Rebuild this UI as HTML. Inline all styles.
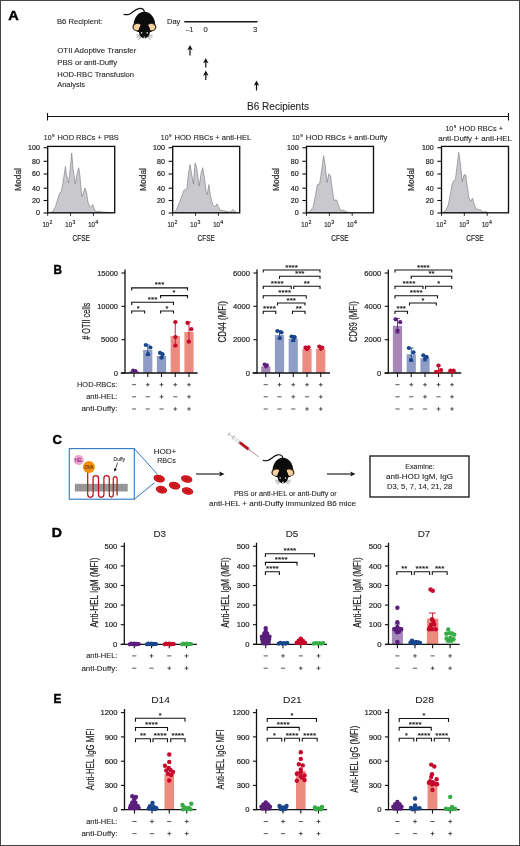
<!DOCTYPE html>
<html><head><meta charset="utf-8"><title>Figure</title>
<style>
html,body{margin:0;padding:0;background:#fff;}
body{width:520px;height:846px;overflow:hidden;}
svg{display:block;font-family:"Liberation Sans",sans-serif;will-change:transform;}
text{fill:#231f20;stroke:#231f20;stroke-width:0.1px;}
text.k{stroke-width:0.2px;}
</style></head><body>
<svg width="520" height="846" viewBox="0 0 520 846">
<rect x="0" y="0" width="520" height="846" fill="#fff"/>
<text font-size="13.4" textLength="10.5" lengthAdjust="spacingAndGlyphs" font-weight="bold" style="fill:#000;stroke:#000;stroke-width:0.45px" x="8.3" y="19.8" >A</text>
<text font-size="7.9" textLength="45.5" lengthAdjust="spacingAndGlyphs" x="57" y="24.3" >B6 Recipient:</text>
<g transform="translate(144.4 25) scale(1.0)">
<path d="M0,-13 C-0.5,-15.6 -2.5,-16.9 -5.5,-16.4 C-10,-15.7 -12,-11.6 -15.5,-10.6 C-17.5,-10.1 -19,-10.2 -20.4,-10.6" fill="none" stroke="#111" stroke-width="1.25" stroke-linecap="round"/>
<path d="M0,-13.3 C6,-13.3 10.8,-7 10.8,0 C10.8,4 9,6.5 6,7 L-6,7 C-9,6.5 -10.8,4 -10.8,0 C-10.8,-7 -6,-13.3 0,-13.3 Z" fill="#0b0b0b"/>
<ellipse cx="-7.2" cy="2.0" rx="4.8" ry="4.1" fill="#3b2a1a"/>
<ellipse cx="7.2" cy="2.0" rx="4.8" ry="4.1" fill="#3b2a1a"/>
<ellipse cx="-6.9" cy="2.1" rx="3.8" ry="3.1" fill="#f4d3a0" transform="rotate(-14 -6.9 2.1)"/>
<ellipse cx="6.9" cy="2.1" rx="3.8" ry="3.1" fill="#f4d3a0" transform="rotate(14 6.9 2.1)"/>
<path d="M-3,-2 L3,-2 L4.2,1 C5.6,3 6,5 5.6,7 C5,10.5 3,13.3 0,13.3 C-3,13.3 -5,10.5 -5.6,7 C-6,5 -5.6,3 -4.2,1 Z" fill="#0b0b0b"/>
<circle cx="-2.8" cy="7.8" r="0.85" fill="#cfd8dc"/><circle cx="2.8" cy="7.8" r="0.85" fill="#cfd8dc"/>
<ellipse cx="0" cy="12.1" rx="1.0" ry="0.7" fill="#f0e6e0"/>
<path d="M-3.6,11 L-8.2,9.8 M-3.6,11.7 L-8,12.2 M-3.4,12.4 L-6.4,14.6 M3.6,11 L8.2,9.8 M3.6,11.7 L8,12.2 M3.4,12.4 L6.4,14.6" stroke="#333" stroke-width="0.4" fill="none"/>
</g>
<text font-size="7.9" textLength="13.4" lengthAdjust="spacingAndGlyphs" x="167" y="24.3" >Day</text>
<line x1="184.3" y1="21.7" x2="257.5" y2="21.7" stroke="#1a1a1a" stroke-width="1.4" />
<text font-size="7.6" textLength="7.6" lengthAdjust="spacingAndGlyphs" x="185.8" y="31.9" >–1</text>
<text font-size="7.6" x="203.4" y="31.9" >0</text>
<text font-size="7.6" x="253" y="31.9" >3</text>
<text font-size="7.9" textLength="79.2" lengthAdjust="spacingAndGlyphs" x="57.2" y="52.9" >OTII Adoptive Transfer</text>
<text font-size="7.9" textLength="60" lengthAdjust="spacingAndGlyphs" x="57.2" y="64.6" >PBS or anti-Duffy</text>
<text font-size="7.9" textLength="76.9" lengthAdjust="spacingAndGlyphs" x="57.2" y="77.1" >HOD-RBC Transfusion</text>
<text font-size="7.9" textLength="27.9" lengthAdjust="spacingAndGlyphs" x="57.2" y="87.2" >Analysis</text>
<line x1="190" y1="47" x2="190" y2="55.5" stroke="#111" stroke-width="1.2" />
<path d="M190,45 L187.3,50.2 L190,48.9 L192.7,50.2 Z" fill="#111" />
<line x1="205.8" y1="60" x2="205.8" y2="67.5" stroke="#111" stroke-width="1.2" />
<path d="M205.8,58 L203.10000000000002,63.2 L205.8,61.9 L208.5,63.2 Z" fill="#111" />
<line x1="205.8" y1="72.5" x2="205.8" y2="80" stroke="#111" stroke-width="1.2" />
<path d="M205.8,70.5 L203.10000000000002,75.7 L205.8,74.4 L208.5,75.7 Z" fill="#111" />
<line x1="256.5" y1="82.5" x2="256.5" y2="90.5" stroke="#111" stroke-width="1.2" />
<path d="M256.5,80.5 L253.8,85.7 L256.5,84.4 L259.2,85.7 Z" fill="#111" />
<text font-size="10.3" textLength="62" lengthAdjust="spacingAndGlyphs" x="247" y="110" >B6 Recipients</text>
<line x1="47.5" y1="116.5" x2="508.5" y2="116.5" stroke="#111" stroke-width="1.1" />
<line x1="47.5" y1="113" x2="47.5" y2="120.5" stroke="#111" stroke-width="1.1" />
<line x1="508.5" y1="113" x2="508.5" y2="120.5" stroke="#111" stroke-width="1.1" />
<polygon points="50.46,212.77 53.08,211.08 55.38,206.92 57.69,199.23 59.69,193.08 61.23,192.00 63.08,182.31 65.38,166.46 66.46,174.62 68.46,183.08 70.00,170.77 71.69,153.08 73.08,169.23 75.38,183.85 76.92,174.62 78.77,167.69 80.00,176.92 81.85,196.92 83.08,193.85 84.92,188.00 86.46,192.31 88.00,202.31 90.00,207.23 91.54,206.92 92.77,204.62 94.15,208.46 95.69,211.54 97.69,211.54 99.69,211.08 101.54,212.00 106.15,212.31 112.31,212.77" fill="#c9c9cd" stroke="#77777c" stroke-width="0.6" stroke-linejoin="round"/>
<rect x="47.7" y="146.4" width="67.0" height="66.4" fill="none" stroke="#111" stroke-width="1.35" />
<line x1="43.6" y1="147.75" x2="47.7" y2="147.75" stroke="#111" stroke-width="1.1" />
<text font-size="7" text-anchor="end" textLength="11.8" lengthAdjust="spacingAndGlyphs" class="k" x="39.900000000000006" y="150.2" >100</text>
<line x1="43.6" y1="161.3" x2="47.7" y2="161.3" stroke="#111" stroke-width="1.1" />
<text font-size="7" text-anchor="end" textLength="7.9" lengthAdjust="spacingAndGlyphs" class="k" x="39.900000000000006" y="163.75" >80</text>
<line x1="43.6" y1="174.0" x2="47.7" y2="174.0" stroke="#111" stroke-width="1.1" />
<text font-size="7" text-anchor="end" textLength="7.9" lengthAdjust="spacingAndGlyphs" class="k" x="39.900000000000006" y="176.45" >60</text>
<line x1="43.6" y1="188.2" x2="47.7" y2="188.2" stroke="#111" stroke-width="1.1" />
<text font-size="7" text-anchor="end" textLength="7.9" lengthAdjust="spacingAndGlyphs" class="k" x="39.900000000000006" y="190.64999999999998" >40</text>
<line x1="43.6" y1="200.5" x2="47.7" y2="200.5" stroke="#111" stroke-width="1.1" />
<text font-size="7" text-anchor="end" textLength="7.9" lengthAdjust="spacingAndGlyphs" class="k" x="39.900000000000006" y="202.95" >20</text>
<line x1="43.6" y1="213.0" x2="47.7" y2="213.0" stroke="#111" stroke-width="1.1" />
<text font-size="7" text-anchor="end" textLength="4" lengthAdjust="spacingAndGlyphs" class="k" x="39.900000000000006" y="215.45" >0</text>
<line x1="47.7" y1="212.8" x2="47.7" y2="215.8" stroke="#111" stroke-width="0.9" />
<text font-size="8.1" textLength="6.7" lengthAdjust="spacingAndGlyphs" class="k" x="42.5" y="227" >10</text>
<text font-size="5.2" style="fill:#231f20;stroke:#231f20;stroke-width:0.15px" x="49.6" y="224.2" >2</text>
<line x1="70.55000000000001" y1="212.8" x2="70.55000000000001" y2="215.8" stroke="#111" stroke-width="0.9" />
<text font-size="8.1" textLength="6.7" lengthAdjust="spacingAndGlyphs" class="k" x="65.35000000000001" y="227" >10</text>
<text font-size="5.2" style="fill:#231f20;stroke:#231f20;stroke-width:0.15px" x="72.45000000000002" y="224.2" >3</text>
<line x1="93.4" y1="212.8" x2="93.4" y2="215.8" stroke="#111" stroke-width="0.9" />
<text font-size="8.1" textLength="6.7" lengthAdjust="spacingAndGlyphs" class="k" x="88.2" y="227" >10</text>
<text font-size="5.2" style="fill:#231f20;stroke:#231f20;stroke-width:0.15px" x="95.30000000000001" y="224.2" >4</text>
<text font-size="9.2" text-anchor="middle" textLength="17.3" lengthAdjust="spacingAndGlyphs" class="k" x="81.2" y="241.3" >CFSE</text>
<text font-size="9.8" text-anchor="middle" textLength="22.9" lengthAdjust="spacingAndGlyphs" class="k" transform="translate(20.5 179.5) rotate(-90)" >Modal</text>
<polygon points="174.54,212.77 176.54,209.23 179.62,202.31 181.92,195.38 184.23,190.00 186.85,188.92 188.38,173.85 190.08,164.62 191.46,173.08 193.46,183.85 195.00,163.08 196.54,166.92 199.15,186.15 201.15,173.08 202.69,167.69 204.23,176.15 206.23,192.31 207.31,194.62 208.85,184.62 210.38,195.38 212.69,204.62 215.00,206.92 217.00,203.85 218.85,207.69 220.38,210.31 223.46,210.46 226.54,211.54 230.38,212.00 232.69,209.54 234.54,210.77 236.54,212.77" fill="#c9c9cd" stroke="#77777c" stroke-width="0.6" stroke-linejoin="round"/>
<rect x="172.7" y="146.4" width="67.0" height="66.4" fill="none" stroke="#111" stroke-width="1.35" />
<line x1="168.6" y1="147.75" x2="172.7" y2="147.75" stroke="#111" stroke-width="1.1" />
<text font-size="7" text-anchor="end" textLength="11.8" lengthAdjust="spacingAndGlyphs" class="k" x="164.89999999999998" y="150.2" >100</text>
<line x1="168.6" y1="161.3" x2="172.7" y2="161.3" stroke="#111" stroke-width="1.1" />
<text font-size="7" text-anchor="end" textLength="7.9" lengthAdjust="spacingAndGlyphs" class="k" x="164.89999999999998" y="163.75" >80</text>
<line x1="168.6" y1="174.0" x2="172.7" y2="174.0" stroke="#111" stroke-width="1.1" />
<text font-size="7" text-anchor="end" textLength="7.9" lengthAdjust="spacingAndGlyphs" class="k" x="164.89999999999998" y="176.45" >60</text>
<line x1="168.6" y1="188.2" x2="172.7" y2="188.2" stroke="#111" stroke-width="1.1" />
<text font-size="7" text-anchor="end" textLength="7.9" lengthAdjust="spacingAndGlyphs" class="k" x="164.89999999999998" y="190.64999999999998" >40</text>
<line x1="168.6" y1="200.5" x2="172.7" y2="200.5" stroke="#111" stroke-width="1.1" />
<text font-size="7" text-anchor="end" textLength="7.9" lengthAdjust="spacingAndGlyphs" class="k" x="164.89999999999998" y="202.95" >20</text>
<line x1="168.6" y1="213.0" x2="172.7" y2="213.0" stroke="#111" stroke-width="1.1" />
<text font-size="7" text-anchor="end" textLength="4" lengthAdjust="spacingAndGlyphs" class="k" x="164.89999999999998" y="215.45" >0</text>
<line x1="172.7" y1="212.8" x2="172.7" y2="215.8" stroke="#111" stroke-width="0.9" />
<text font-size="8.1" textLength="6.7" lengthAdjust="spacingAndGlyphs" class="k" x="167.5" y="227" >10</text>
<text font-size="5.2" style="fill:#231f20;stroke:#231f20;stroke-width:0.15px" x="174.6" y="224.2" >2</text>
<line x1="195.54999999999998" y1="212.8" x2="195.54999999999998" y2="215.8" stroke="#111" stroke-width="0.9" />
<text font-size="8.1" textLength="6.7" lengthAdjust="spacingAndGlyphs" class="k" x="190.35" y="227" >10</text>
<text font-size="5.2" style="fill:#231f20;stroke:#231f20;stroke-width:0.15px" x="197.45" y="224.2" >3</text>
<line x1="218.39999999999998" y1="212.8" x2="218.39999999999998" y2="215.8" stroke="#111" stroke-width="0.9" />
<text font-size="8.1" textLength="6.7" lengthAdjust="spacingAndGlyphs" class="k" x="213.2" y="227" >10</text>
<text font-size="5.2" style="fill:#231f20;stroke:#231f20;stroke-width:0.15px" x="220.29999999999998" y="224.2" >4</text>
<text font-size="9.2" text-anchor="middle" textLength="17.3" lengthAdjust="spacingAndGlyphs" class="k" x="206.2" y="241.3" >CFSE</text>
<text font-size="9.8" text-anchor="middle" textLength="22.9" lengthAdjust="spacingAndGlyphs" class="k" transform="translate(145.5 179.5) rotate(-90)" >Modal</text>
<polygon points="307.46,212.77 310.85,210.46 313.15,206.92 315.46,195.38 317.31,184.62 319.62,183.85 321.62,170.77 323.62,155.69 325.15,164.62 327.00,182.31 328.85,173.85 330.54,175.69 332.08,187.69 333.92,200.31 336.69,200.00 338.54,205.38 340.38,210.00 343.92,210.46 347.00,212.00 350.85,212.77" fill="#c9c9cd" stroke="#77777c" stroke-width="0.6" stroke-linejoin="round"/>
<rect x="306.5" y="146.4" width="67.0" height="66.4" fill="none" stroke="#111" stroke-width="1.35" />
<line x1="302.4" y1="147.75" x2="306.5" y2="147.75" stroke="#111" stroke-width="1.1" />
<text font-size="7" text-anchor="end" textLength="11.8" lengthAdjust="spacingAndGlyphs" class="k" x="298.7" y="150.2" >100</text>
<line x1="302.4" y1="161.3" x2="306.5" y2="161.3" stroke="#111" stroke-width="1.1" />
<text font-size="7" text-anchor="end" textLength="7.9" lengthAdjust="spacingAndGlyphs" class="k" x="298.7" y="163.75" >80</text>
<line x1="302.4" y1="174.0" x2="306.5" y2="174.0" stroke="#111" stroke-width="1.1" />
<text font-size="7" text-anchor="end" textLength="7.9" lengthAdjust="spacingAndGlyphs" class="k" x="298.7" y="176.45" >60</text>
<line x1="302.4" y1="188.2" x2="306.5" y2="188.2" stroke="#111" stroke-width="1.1" />
<text font-size="7" text-anchor="end" textLength="7.9" lengthAdjust="spacingAndGlyphs" class="k" x="298.7" y="190.64999999999998" >40</text>
<line x1="302.4" y1="200.5" x2="306.5" y2="200.5" stroke="#111" stroke-width="1.1" />
<text font-size="7" text-anchor="end" textLength="7.9" lengthAdjust="spacingAndGlyphs" class="k" x="298.7" y="202.95" >20</text>
<line x1="302.4" y1="213.0" x2="306.5" y2="213.0" stroke="#111" stroke-width="1.1" />
<text font-size="7" text-anchor="end" textLength="4" lengthAdjust="spacingAndGlyphs" class="k" x="298.7" y="215.45" >0</text>
<line x1="306.5" y1="212.8" x2="306.5" y2="215.8" stroke="#111" stroke-width="0.9" />
<text font-size="8.1" textLength="6.7" lengthAdjust="spacingAndGlyphs" class="k" x="301.3" y="227" >10</text>
<text font-size="5.2" style="fill:#231f20;stroke:#231f20;stroke-width:0.15px" x="308.4" y="224.2" >2</text>
<line x1="329.35" y1="212.8" x2="329.35" y2="215.8" stroke="#111" stroke-width="0.9" />
<text font-size="8.1" textLength="6.7" lengthAdjust="spacingAndGlyphs" class="k" x="324.15000000000003" y="227" >10</text>
<text font-size="5.2" style="fill:#231f20;stroke:#231f20;stroke-width:0.15px" x="331.25" y="224.2" >3</text>
<line x1="352.2" y1="212.8" x2="352.2" y2="215.8" stroke="#111" stroke-width="0.9" />
<text font-size="8.1" textLength="6.7" lengthAdjust="spacingAndGlyphs" class="k" x="347.0" y="227" >10</text>
<text font-size="5.2" style="fill:#231f20;stroke:#231f20;stroke-width:0.15px" x="354.09999999999997" y="224.2" >4</text>
<text font-size="9.2" text-anchor="middle" textLength="17.3" lengthAdjust="spacingAndGlyphs" class="k" x="340.0" y="241.3" >CFSE</text>
<text font-size="9.8" text-anchor="middle" textLength="22.9" lengthAdjust="spacingAndGlyphs" class="k" transform="translate(279.3 179.5) rotate(-90)" >Modal</text>
<polygon points="442.54,212.77 446.08,210.00 448.38,204.62 450.69,192.31 452.23,183.85 453.77,180.77 455.31,180.31 456.85,167.69 458.69,152.31 460.38,163.08 462.23,181.54 464.23,174.62 465.77,175.08 467.15,186.15 468.69,196.92 470.69,201.54 472.54,198.15 474.23,204.62 476.08,208.92 480.69,210.00 483.00,212.00 486.08,211.54 487.62,212.77" fill="#c9c9cd" stroke="#77777c" stroke-width="0.6" stroke-linejoin="round"/>
<rect x="441.5" y="146.4" width="67.0" height="66.4" fill="none" stroke="#111" stroke-width="1.35" />
<line x1="437.4" y1="147.75" x2="441.5" y2="147.75" stroke="#111" stroke-width="1.1" />
<text font-size="7" text-anchor="end" textLength="11.8" lengthAdjust="spacingAndGlyphs" class="k" x="433.7" y="150.2" >100</text>
<line x1="437.4" y1="161.3" x2="441.5" y2="161.3" stroke="#111" stroke-width="1.1" />
<text font-size="7" text-anchor="end" textLength="7.9" lengthAdjust="spacingAndGlyphs" class="k" x="433.7" y="163.75" >80</text>
<line x1="437.4" y1="174.0" x2="441.5" y2="174.0" stroke="#111" stroke-width="1.1" />
<text font-size="7" text-anchor="end" textLength="7.9" lengthAdjust="spacingAndGlyphs" class="k" x="433.7" y="176.45" >60</text>
<line x1="437.4" y1="188.2" x2="441.5" y2="188.2" stroke="#111" stroke-width="1.1" />
<text font-size="7" text-anchor="end" textLength="7.9" lengthAdjust="spacingAndGlyphs" class="k" x="433.7" y="190.64999999999998" >40</text>
<line x1="437.4" y1="200.5" x2="441.5" y2="200.5" stroke="#111" stroke-width="1.1" />
<text font-size="7" text-anchor="end" textLength="7.9" lengthAdjust="spacingAndGlyphs" class="k" x="433.7" y="202.95" >20</text>
<line x1="437.4" y1="213.0" x2="441.5" y2="213.0" stroke="#111" stroke-width="1.1" />
<text font-size="7" text-anchor="end" textLength="4" lengthAdjust="spacingAndGlyphs" class="k" x="433.7" y="215.45" >0</text>
<line x1="441.5" y1="212.8" x2="441.5" y2="215.8" stroke="#111" stroke-width="0.9" />
<text font-size="8.1" textLength="6.7" lengthAdjust="spacingAndGlyphs" class="k" x="436.3" y="227" >10</text>
<text font-size="5.2" style="fill:#231f20;stroke:#231f20;stroke-width:0.15px" x="443.4" y="224.2" >2</text>
<line x1="464.35" y1="212.8" x2="464.35" y2="215.8" stroke="#111" stroke-width="0.9" />
<text font-size="8.1" textLength="6.7" lengthAdjust="spacingAndGlyphs" class="k" x="459.15000000000003" y="227" >10</text>
<text font-size="5.2" style="fill:#231f20;stroke:#231f20;stroke-width:0.15px" x="466.25" y="224.2" >3</text>
<line x1="487.2" y1="212.8" x2="487.2" y2="215.8" stroke="#111" stroke-width="0.9" />
<text font-size="8.1" textLength="6.7" lengthAdjust="spacingAndGlyphs" class="k" x="482.0" y="227" >10</text>
<text font-size="5.2" style="fill:#231f20;stroke:#231f20;stroke-width:0.15px" x="489.09999999999997" y="224.2" >4</text>
<text font-size="9.2" text-anchor="middle" textLength="17.3" lengthAdjust="spacingAndGlyphs" class="k" x="475.0" y="241.3" >CFSE</text>
<text font-size="9.8" text-anchor="middle" textLength="22.9" lengthAdjust="spacingAndGlyphs" class="k" transform="translate(414.3 179.5) rotate(-90)" >Modal</text>
<text font-size="7.2" textLength="7.7" lengthAdjust="spacingAndGlyphs" x="43.8" y="140" >10</text>
<text font-size="4.4" x="52.0" y="137.4" >9</text>
<text font-size="7.2" textLength="61.3" lengthAdjust="spacingAndGlyphs" x="57.5" y="140" >HOD RBCs + PBS</text>
<text font-size="7.2" textLength="7.7" lengthAdjust="spacingAndGlyphs" x="160.8" y="140" >10</text>
<text font-size="4.4" x="169.0" y="137.4" >9</text>
<text font-size="7.2" textLength="76.8" lengthAdjust="spacingAndGlyphs" x="174.5" y="140" >HOD RBCs + anti-HEL</text>
<text font-size="7.2" textLength="7.7" lengthAdjust="spacingAndGlyphs" x="292" y="140" >10</text>
<text font-size="4.4" x="300.2" y="137.4" >9</text>
<text font-size="7.2" textLength="81.7" lengthAdjust="spacingAndGlyphs" x="305.8" y="140" >HOD RBCs + anti-Duffy</text>
<text font-size="7.2" textLength="7.7" lengthAdjust="spacingAndGlyphs" x="445.5" y="130.5" >10</text>
<text font-size="4.4" x="453.7" y="127.9" >9</text>
<text font-size="7.2" textLength="43.7" lengthAdjust="spacingAndGlyphs" x="459.3" y="130.5" >HOD RBCs +</text>
<text font-size="7.2" textLength="73.7" lengthAdjust="spacingAndGlyphs" x="438.3" y="140.5" >anti-Duffy + anti-HEL</text>
<text font-size="13.4" textLength="8.5" lengthAdjust="spacingAndGlyphs" font-weight="bold" style="fill:#000;stroke:#000;stroke-width:0.45px" x="53.6" y="274.2" >B</text>
<rect x="143.15" y="350" width="9.2" height="23" fill="#8e9cc6" />
<rect x="156.9" y="356" width="9.2" height="17" fill="#8e9cc6" />
<rect x="170.65" y="336" width="9.2" height="37" fill="#ec8b80" />
<rect x="184.4" y="332" width="9.2" height="41" fill="#ec8b80" />
<rect x="129.4" y="371" width="9.2" height="2" fill="#a787b8" />
<line x1="125" y1="269.4" x2="125" y2="373.6" stroke="#111" stroke-width="1.3" />
<line x1="121.4" y1="273" x2="125" y2="273" stroke="#111" stroke-width="1.1" />
<text font-size="7.7" text-anchor="end" textLength="20.8" lengthAdjust="spacingAndGlyphs" class="k" x="118.0" y="275.75" >15000</text>
<line x1="121.4" y1="306.3" x2="125" y2="306.3" stroke="#111" stroke-width="1.1" />
<text font-size="7.7" text-anchor="end" textLength="20.8" lengthAdjust="spacingAndGlyphs" class="k" x="118.0" y="309.05" >10000</text>
<line x1="121.4" y1="339.7" x2="125" y2="339.7" stroke="#111" stroke-width="1.1" />
<text font-size="7.7" text-anchor="end" textLength="17.0" lengthAdjust="spacingAndGlyphs" class="k" x="118.0" y="342.45" >5000</text>
<line x1="121.4" y1="373" x2="125" y2="373" stroke="#111" stroke-width="1.1" />
<text font-size="7.7" text-anchor="end" textLength="4.25" lengthAdjust="spacingAndGlyphs" class="k" x="118.0" y="375.75" >0</text>
<line x1="120.8" y1="373" x2="197.6" y2="373" stroke="#111" stroke-width="1.3" />
<line x1="134" y1="373" x2="134" y2="377" stroke="#111" stroke-width="1.1" />
<line x1="147.75" y1="373" x2="147.75" y2="377" stroke="#111" stroke-width="1.1" />
<line x1="161.5" y1="373" x2="161.5" y2="377" stroke="#111" stroke-width="1.1" />
<line x1="175.25" y1="373" x2="175.25" y2="377" stroke="#111" stroke-width="1.1" />
<line x1="189" y1="373" x2="189" y2="377" stroke="#111" stroke-width="1.1" />
<line x1="147.75" y1="345" x2="147.75" y2="355.2" stroke="#18468c" stroke-width="0.9" />
<line x1="145.55" y1="345" x2="149.95" y2="345" stroke="#18468c" stroke-width="0.9" />
<line x1="145.55" y1="355.2" x2="149.95" y2="355.2" stroke="#18468c" stroke-width="0.9" />
<line x1="161.5" y1="352.5" x2="161.5" y2="358" stroke="#18468c" stroke-width="0.9" />
<line x1="159.3" y1="352.5" x2="163.7" y2="352.5" stroke="#18468c" stroke-width="0.9" />
<line x1="159.3" y1="358" x2="163.7" y2="358" stroke="#18468c" stroke-width="0.9" />
<line x1="175.25" y1="322" x2="175.25" y2="346" stroke="#c6082a" stroke-width="0.9" />
<line x1="173.05" y1="322" x2="177.45" y2="322" stroke="#c6082a" stroke-width="0.9" />
<line x1="173.05" y1="346" x2="177.45" y2="346" stroke="#c6082a" stroke-width="0.9" />
<line x1="189" y1="322" x2="189" y2="342" stroke="#c6082a" stroke-width="0.9" />
<line x1="186.8" y1="322" x2="191.2" y2="322" stroke="#c6082a" stroke-width="0.9" />
<line x1="186.8" y1="342" x2="191.2" y2="342" stroke="#c6082a" stroke-width="0.9" />
<circle cx="133.00" cy="370.40" r="1.9" fill="#5a1e7c" />
<circle cx="135.60" cy="371.00" r="1.9" fill="#5a1e7c" />
<circle cx="145.80" cy="345.00" r="2.1" fill="#18468c" />
<circle cx="150.40" cy="347.50" r="2.1" fill="#18468c" />
<circle cx="148.00" cy="354.20" r="2.1" fill="#18468c" />
<circle cx="160.00" cy="352.90" r="2.1" fill="#18468c" />
<circle cx="162.60" cy="354.60" r="2.1" fill="#18468c" />
<circle cx="161.50" cy="357.70" r="2.1" fill="#18468c" />
<circle cx="175.40" cy="322.10" r="2.1" fill="#c6082a" />
<circle cx="175.40" cy="337.00" r="2.1" fill="#c6082a" />
<circle cx="175.40" cy="345.60" r="2.1" fill="#c6082a" />
<circle cx="187.50" cy="322.90" r="2.1" fill="#c6082a" />
<circle cx="191.30" cy="329.20" r="2.1" fill="#c6082a" />
<circle cx="188.80" cy="341.70" r="2.1" fill="#c6082a" />
<path d="M131.7,290.5 L131.7,287.9 L187.5,287.9 L187.5,290.5" fill="none" stroke="#111" stroke-width="1.1" />
<text font-size="8" text-anchor="middle" textLength="9.5" lengthAdjust="spacingAndGlyphs" style="fill:#111;stroke:#111;stroke-width:0.12px" x="159.6" y="287.4" >***</text>
<path d="M160.6,298.20000000000005 L160.6,295.6 L187.5,295.6 L187.5,298.20000000000005" fill="none" stroke="#111" stroke-width="1.1" />
<text font-size="8" text-anchor="middle" textLength="2.9" lengthAdjust="spacingAndGlyphs" style="fill:#111;stroke:#111;stroke-width:0.12px" x="174.05" y="295.1" >*</text>
<path d="M131.7,304.90000000000003 L131.7,302.3 L173.5,302.3 L173.5,304.90000000000003" fill="none" stroke="#111" stroke-width="1.1" />
<text font-size="8" text-anchor="middle" textLength="9.5" lengthAdjust="spacingAndGlyphs" style="fill:#111;stroke:#111;stroke-width:0.12px" x="152.6" y="301.8" >***</text>
<path d="M131.7,313.6 L131.7,311 L144.6,311 L144.6,313.6" fill="none" stroke="#111" stroke-width="1.1" />
<text font-size="8" text-anchor="middle" textLength="2.9" lengthAdjust="spacingAndGlyphs" style="fill:#111;stroke:#111;stroke-width:0.12px" x="138.14999999999998" y="310.5" >*</text>
<path d="M160.6,313.6 L160.6,311 L173.5,311 L173.5,313.6" fill="none" stroke="#111" stroke-width="1.1" />
<text font-size="8" text-anchor="middle" textLength="2.9" lengthAdjust="spacingAndGlyphs" style="fill:#111;stroke:#111;stroke-width:0.12px" x="167.05" y="310.5" >*</text>
<text font-size="10" text-anchor="middle" textLength="37" lengthAdjust="spacingAndGlyphs" class="k" transform="translate(90.2 321.3) rotate(-90)" ># OTII cells</text>
<text font-size="7.8" text-anchor="end" textLength="40.4" lengthAdjust="spacingAndGlyphs" x="117.4" y="387" >HOD-RBCs:</text>
<text font-size="7.8" text-anchor="end" textLength="31.2" lengthAdjust="spacingAndGlyphs" x="117.4" y="399.1" >anti-HEL:</text>
<text font-size="7.8" text-anchor="end" textLength="36" lengthAdjust="spacingAndGlyphs" x="117.4" y="411.2" >anti-Duffy:</text>
<line x1="131.9" y1="384.7" x2="136.1" y2="384.7" stroke="#3a3a3a" stroke-width="0.85" />
<line x1="145.85" y1="384.7" x2="149.65" y2="384.7" stroke="#3a3a3a" stroke-width="0.85" />
<line x1="147.75" y1="382.8" x2="147.75" y2="386.59999999999997" stroke="#3a3a3a" stroke-width="0.85" />
<line x1="159.6" y1="384.7" x2="163.4" y2="384.7" stroke="#3a3a3a" stroke-width="0.85" />
<line x1="161.5" y1="382.8" x2="161.5" y2="386.59999999999997" stroke="#3a3a3a" stroke-width="0.85" />
<line x1="173.35" y1="384.7" x2="177.15" y2="384.7" stroke="#3a3a3a" stroke-width="0.85" />
<line x1="175.25" y1="382.8" x2="175.25" y2="386.59999999999997" stroke="#3a3a3a" stroke-width="0.85" />
<line x1="187.1" y1="384.7" x2="190.9" y2="384.7" stroke="#3a3a3a" stroke-width="0.85" />
<line x1="189" y1="382.8" x2="189" y2="386.59999999999997" stroke="#3a3a3a" stroke-width="0.85" />
<line x1="131.9" y1="396.8" x2="136.1" y2="396.8" stroke="#3a3a3a" stroke-width="0.85" />
<line x1="145.65" y1="396.8" x2="149.85" y2="396.8" stroke="#3a3a3a" stroke-width="0.85" />
<line x1="159.6" y1="396.8" x2="163.4" y2="396.8" stroke="#3a3a3a" stroke-width="0.85" />
<line x1="161.5" y1="394.90000000000003" x2="161.5" y2="398.7" stroke="#3a3a3a" stroke-width="0.85" />
<line x1="173.15" y1="396.8" x2="177.35" y2="396.8" stroke="#3a3a3a" stroke-width="0.85" />
<line x1="187.1" y1="396.8" x2="190.9" y2="396.8" stroke="#3a3a3a" stroke-width="0.85" />
<line x1="189" y1="394.90000000000003" x2="189" y2="398.7" stroke="#3a3a3a" stroke-width="0.85" />
<line x1="131.9" y1="409" x2="136.1" y2="409" stroke="#3a3a3a" stroke-width="0.85" />
<line x1="145.65" y1="409" x2="149.85" y2="409" stroke="#3a3a3a" stroke-width="0.85" />
<line x1="159.4" y1="409" x2="163.6" y2="409" stroke="#3a3a3a" stroke-width="0.85" />
<line x1="173.35" y1="409" x2="177.15" y2="409" stroke="#3a3a3a" stroke-width="0.85" />
<line x1="175.25" y1="407.1" x2="175.25" y2="410.9" stroke="#3a3a3a" stroke-width="0.85" />
<line x1="187.1" y1="409" x2="190.9" y2="409" stroke="#3a3a3a" stroke-width="0.85" />
<line x1="189" y1="407.1" x2="189" y2="410.9" stroke="#3a3a3a" stroke-width="0.85" />
<line x1="263.65" y1="384.7" x2="267.85" y2="384.7" stroke="#3a3a3a" stroke-width="0.85" />
<line x1="277.6" y1="384.7" x2="281.4" y2="384.7" stroke="#3a3a3a" stroke-width="0.85" />
<line x1="279.5" y1="382.8" x2="279.5" y2="386.59999999999997" stroke="#3a3a3a" stroke-width="0.85" />
<line x1="291.35" y1="384.7" x2="295.15" y2="384.7" stroke="#3a3a3a" stroke-width="0.85" />
<line x1="293.25" y1="382.8" x2="293.25" y2="386.59999999999997" stroke="#3a3a3a" stroke-width="0.85" />
<line x1="305.1" y1="384.7" x2="308.9" y2="384.7" stroke="#3a3a3a" stroke-width="0.85" />
<line x1="307" y1="382.8" x2="307" y2="386.59999999999997" stroke="#3a3a3a" stroke-width="0.85" />
<line x1="318.85" y1="384.7" x2="322.65" y2="384.7" stroke="#3a3a3a" stroke-width="0.85" />
<line x1="320.75" y1="382.8" x2="320.75" y2="386.59999999999997" stroke="#3a3a3a" stroke-width="0.85" />
<line x1="263.65" y1="396.8" x2="267.85" y2="396.8" stroke="#3a3a3a" stroke-width="0.85" />
<line x1="277.4" y1="396.8" x2="281.6" y2="396.8" stroke="#3a3a3a" stroke-width="0.85" />
<line x1="291.35" y1="396.8" x2="295.15" y2="396.8" stroke="#3a3a3a" stroke-width="0.85" />
<line x1="293.25" y1="394.90000000000003" x2="293.25" y2="398.7" stroke="#3a3a3a" stroke-width="0.85" />
<line x1="304.9" y1="396.8" x2="309.1" y2="396.8" stroke="#3a3a3a" stroke-width="0.85" />
<line x1="318.85" y1="396.8" x2="322.65" y2="396.8" stroke="#3a3a3a" stroke-width="0.85" />
<line x1="320.75" y1="394.90000000000003" x2="320.75" y2="398.7" stroke="#3a3a3a" stroke-width="0.85" />
<line x1="263.65" y1="409" x2="267.85" y2="409" stroke="#3a3a3a" stroke-width="0.85" />
<line x1="277.4" y1="409" x2="281.6" y2="409" stroke="#3a3a3a" stroke-width="0.85" />
<line x1="291.15" y1="409" x2="295.35" y2="409" stroke="#3a3a3a" stroke-width="0.85" />
<line x1="305.1" y1="409" x2="308.9" y2="409" stroke="#3a3a3a" stroke-width="0.85" />
<line x1="307" y1="407.1" x2="307" y2="410.9" stroke="#3a3a3a" stroke-width="0.85" />
<line x1="318.85" y1="409" x2="322.65" y2="409" stroke="#3a3a3a" stroke-width="0.85" />
<line x1="320.75" y1="407.1" x2="320.75" y2="410.9" stroke="#3a3a3a" stroke-width="0.85" />
<line x1="395.4" y1="384.7" x2="399.6" y2="384.7" stroke="#3a3a3a" stroke-width="0.85" />
<line x1="409.35" y1="384.7" x2="413.15" y2="384.7" stroke="#3a3a3a" stroke-width="0.85" />
<line x1="411.25" y1="382.8" x2="411.25" y2="386.59999999999997" stroke="#3a3a3a" stroke-width="0.85" />
<line x1="423.1" y1="384.7" x2="426.9" y2="384.7" stroke="#3a3a3a" stroke-width="0.85" />
<line x1="425" y1="382.8" x2="425" y2="386.59999999999997" stroke="#3a3a3a" stroke-width="0.85" />
<line x1="436.6" y1="384.7" x2="440.4" y2="384.7" stroke="#3a3a3a" stroke-width="0.85" />
<line x1="438.5" y1="382.8" x2="438.5" y2="386.59999999999997" stroke="#3a3a3a" stroke-width="0.85" />
<line x1="450.1" y1="384.7" x2="453.9" y2="384.7" stroke="#3a3a3a" stroke-width="0.85" />
<line x1="452" y1="382.8" x2="452" y2="386.59999999999997" stroke="#3a3a3a" stroke-width="0.85" />
<line x1="395.4" y1="396.8" x2="399.6" y2="396.8" stroke="#3a3a3a" stroke-width="0.85" />
<line x1="409.15" y1="396.8" x2="413.35" y2="396.8" stroke="#3a3a3a" stroke-width="0.85" />
<line x1="423.1" y1="396.8" x2="426.9" y2="396.8" stroke="#3a3a3a" stroke-width="0.85" />
<line x1="425" y1="394.90000000000003" x2="425" y2="398.7" stroke="#3a3a3a" stroke-width="0.85" />
<line x1="436.4" y1="396.8" x2="440.6" y2="396.8" stroke="#3a3a3a" stroke-width="0.85" />
<line x1="450.1" y1="396.8" x2="453.9" y2="396.8" stroke="#3a3a3a" stroke-width="0.85" />
<line x1="452" y1="394.90000000000003" x2="452" y2="398.7" stroke="#3a3a3a" stroke-width="0.85" />
<line x1="395.4" y1="409" x2="399.6" y2="409" stroke="#3a3a3a" stroke-width="0.85" />
<line x1="409.15" y1="409" x2="413.35" y2="409" stroke="#3a3a3a" stroke-width="0.85" />
<line x1="422.9" y1="409" x2="427.1" y2="409" stroke="#3a3a3a" stroke-width="0.85" />
<line x1="436.6" y1="409" x2="440.4" y2="409" stroke="#3a3a3a" stroke-width="0.85" />
<line x1="438.5" y1="407.1" x2="438.5" y2="410.9" stroke="#3a3a3a" stroke-width="0.85" />
<line x1="450.1" y1="409" x2="453.9" y2="409" stroke="#3a3a3a" stroke-width="0.85" />
<line x1="452" y1="407.1" x2="452" y2="410.9" stroke="#3a3a3a" stroke-width="0.85" />
<rect x="261.15" y="366.3" width="9.2" height="6.7" fill="#a787b8" />
<rect x="274.9" y="335" width="9.2" height="38" fill="#8e9cc6" />
<rect x="288.65" y="338.8" width="9.2" height="34.2" fill="#8e9cc6" />
<rect x="302.4" y="348.8" width="9.2" height="24.2" fill="#ec8b80" />
<rect x="316.15" y="348.8" width="9.2" height="24.2" fill="#ec8b80" />
<line x1="257" y1="269.4" x2="257" y2="373.6" stroke="#111" stroke-width="1.3" />
<line x1="253.4" y1="273" x2="257" y2="273" stroke="#111" stroke-width="1.1" />
<text font-size="7.7" text-anchor="end" textLength="17.0" lengthAdjust="spacingAndGlyphs" class="k" x="250.0" y="275.75" >6000</text>
<line x1="253.4" y1="306.3" x2="257" y2="306.3" stroke="#111" stroke-width="1.1" />
<text font-size="7.7" text-anchor="end" textLength="17.0" lengthAdjust="spacingAndGlyphs" class="k" x="250.0" y="309.05" >4000</text>
<line x1="253.4" y1="339.7" x2="257" y2="339.7" stroke="#111" stroke-width="1.1" />
<text font-size="7.7" text-anchor="end" textLength="17.0" lengthAdjust="spacingAndGlyphs" class="k" x="250.0" y="342.45" >2000</text>
<line x1="253.4" y1="373" x2="257" y2="373" stroke="#111" stroke-width="1.1" />
<text font-size="7.7" text-anchor="end" textLength="4.25" lengthAdjust="spacingAndGlyphs" class="k" x="250.0" y="375.75" >0</text>
<line x1="252.5" y1="373" x2="330" y2="373" stroke="#111" stroke-width="1.3" />
<line x1="265.75" y1="373" x2="265.75" y2="377" stroke="#111" stroke-width="1.1" />
<line x1="279.5" y1="373" x2="279.5" y2="377" stroke="#111" stroke-width="1.1" />
<line x1="293.25" y1="373" x2="293.25" y2="377" stroke="#111" stroke-width="1.1" />
<line x1="307" y1="373" x2="307" y2="377" stroke="#111" stroke-width="1.1" />
<line x1="320.75" y1="373" x2="320.75" y2="377" stroke="#111" stroke-width="1.1" />
<line x1="279.5" y1="330.5" x2="279.5" y2="339" stroke="#18468c" stroke-width="0.9" />
<line x1="277.3" y1="330.5" x2="281.7" y2="330.5" stroke="#18468c" stroke-width="0.9" />
<line x1="277.3" y1="339" x2="281.7" y2="339" stroke="#18468c" stroke-width="0.9" />
<line x1="293.25" y1="335.5" x2="293.25" y2="341.5" stroke="#18468c" stroke-width="0.9" />
<line x1="291.05" y1="335.5" x2="295.45" y2="335.5" stroke="#18468c" stroke-width="0.9" />
<line x1="291.05" y1="341.5" x2="295.45" y2="341.5" stroke="#18468c" stroke-width="0.9" />
<circle cx="264.50" cy="364.30" r="1.9" fill="#5a1e7c" />
<circle cx="267.00" cy="365.20" r="1.9" fill="#5a1e7c" />
<circle cx="266.00" cy="366.50" r="1.9" fill="#5a1e7c" />
<circle cx="277.30" cy="331.00" r="2.1" fill="#18468c" />
<circle cx="281.50" cy="332.50" r="2.1" fill="#18468c" />
<circle cx="279.80" cy="338.00" r="2.1" fill="#18468c" />
<circle cx="291.50" cy="336.50" r="2.1" fill="#18468c" />
<circle cx="294.70" cy="337.30" r="2.1" fill="#18468c" />
<circle cx="293.30" cy="340.00" r="2.1" fill="#18468c" />
<circle cx="305.50" cy="347.50" r="2.1" fill="#c6082a" />
<circle cx="308.50" cy="347.30" r="2.1" fill="#c6082a" />
<circle cx="307.00" cy="349.20" r="2.1" fill="#c6082a" />
<circle cx="319.30" cy="346.50" r="2.1" fill="#c6082a" />
<circle cx="322.30" cy="347.50" r="2.1" fill="#c6082a" />
<circle cx="321.00" cy="348.80" r="2.1" fill="#c6082a" />
<path d="M263.25,272.6 L263.25,270 L320,270 L320,272.6" fill="none" stroke="#111" stroke-width="1.1" />
<text font-size="8" text-anchor="middle" textLength="12.8" lengthAdjust="spacingAndGlyphs" style="fill:#111;stroke:#111;stroke-width:0.12px" x="291.625" y="269.5" >****</text>
<path d="M279.5,278.90000000000003 L279.5,276.3 L320,276.3 L320,278.90000000000003" fill="none" stroke="#111" stroke-width="1.1" />
<text font-size="8" text-anchor="middle" textLength="9.5" lengthAdjust="spacingAndGlyphs" style="fill:#111;stroke:#111;stroke-width:0.12px" x="299.75" y="275.8" >***</text>
<path d="M263.25,288.90000000000003 L263.25,286.3 L291.25,286.3 L291.25,288.90000000000003" fill="none" stroke="#111" stroke-width="1.1" />
<text font-size="8" text-anchor="middle" textLength="12.8" lengthAdjust="spacingAndGlyphs" style="fill:#111;stroke:#111;stroke-width:0.12px" x="277.25" y="285.8" >****</text>
<path d="M293.75,288.90000000000003 L293.75,286.3 L320,286.3 L320,288.90000000000003" fill="none" stroke="#111" stroke-width="1.1" />
<text font-size="8" text-anchor="middle" textLength="6.1" lengthAdjust="spacingAndGlyphs" style="fill:#111;stroke:#111;stroke-width:0.12px" x="306.875" y="285.8" >**</text>
<path d="M263.25,298.40000000000003 L263.25,295.8 L306.25,295.8 L306.25,298.40000000000003" fill="none" stroke="#111" stroke-width="1.1" />
<text font-size="8" text-anchor="middle" textLength="12.8" lengthAdjust="spacingAndGlyphs" style="fill:#111;stroke:#111;stroke-width:0.12px" x="284.75" y="295.3" >****</text>
<path d="M277.5,305.6 L277.5,303 L305,303 L305,305.6" fill="none" stroke="#111" stroke-width="1.1" />
<text font-size="8" text-anchor="middle" textLength="9.5" lengthAdjust="spacingAndGlyphs" style="fill:#111;stroke:#111;stroke-width:0.12px" x="291.25" y="302.5" >***</text>
<path d="M263.25,313.90000000000003 L263.25,311.3 L275.75,311.3 L275.75,313.90000000000003" fill="none" stroke="#111" stroke-width="1.1" />
<text font-size="8" text-anchor="middle" textLength="12.8" lengthAdjust="spacingAndGlyphs" style="fill:#111;stroke:#111;stroke-width:0.12px" x="269.5" y="310.8" >****</text>
<path d="M292.5,313.90000000000003 L292.5,311.3 L305,311.3 L305,313.90000000000003" fill="none" stroke="#111" stroke-width="1.1" />
<text font-size="8" text-anchor="middle" textLength="6.1" lengthAdjust="spacingAndGlyphs" style="fill:#111;stroke:#111;stroke-width:0.12px" x="298.75" y="310.8" >**</text>
<text font-size="10" text-anchor="middle" textLength="41.5" lengthAdjust="spacingAndGlyphs" class="k" transform="translate(225.6 321.8) rotate(-90)" >CD44 (MFI)</text>
<rect x="392.9" y="325.8" width="9.2" height="47.2" fill="#a787b8" />
<rect x="406.65" y="354.3" width="9.2" height="18.7" fill="#8e9cc6" />
<rect x="420.4" y="358.3" width="9.2" height="14.7" fill="#8e9cc6" />
<rect x="433.9" y="370" width="9.2" height="3" fill="#ec8b80" />
<rect x="447.4" y="371.3" width="9.2" height="1.7" fill="#ec8b80" />
<line x1="388.3" y1="269.4" x2="388.3" y2="373.6" stroke="#111" stroke-width="1.3" />
<line x1="384.7" y1="273" x2="388.3" y2="273" stroke="#111" stroke-width="1.1" />
<text font-size="7.7" text-anchor="end" textLength="17.0" lengthAdjust="spacingAndGlyphs" class="k" x="381.3" y="275.75" >6000</text>
<line x1="384.7" y1="306.3" x2="388.3" y2="306.3" stroke="#111" stroke-width="1.1" />
<text font-size="7.7" text-anchor="end" textLength="17.0" lengthAdjust="spacingAndGlyphs" class="k" x="381.3" y="309.05" >4000</text>
<line x1="384.7" y1="339.7" x2="388.3" y2="339.7" stroke="#111" stroke-width="1.1" />
<text font-size="7.7" text-anchor="end" textLength="17.0" lengthAdjust="spacingAndGlyphs" class="k" x="381.3" y="342.45" >2000</text>
<line x1="384.7" y1="373" x2="388.3" y2="373" stroke="#111" stroke-width="1.1" />
<text font-size="7.7" text-anchor="end" textLength="4.25" lengthAdjust="spacingAndGlyphs" class="k" x="381.3" y="375.75" >0</text>
<line x1="384.6" y1="373" x2="461.3" y2="373" stroke="#111" stroke-width="1.3" />
<line x1="397.5" y1="373" x2="397.5" y2="377" stroke="#111" stroke-width="1.1" />
<line x1="411.25" y1="373" x2="411.25" y2="377" stroke="#111" stroke-width="1.1" />
<line x1="425" y1="373" x2="425" y2="377" stroke="#111" stroke-width="1.1" />
<line x1="438.5" y1="373" x2="438.5" y2="377" stroke="#111" stroke-width="1.1" />
<line x1="452" y1="373" x2="452" y2="377" stroke="#111" stroke-width="1.1" />
<line x1="397.5" y1="318.5" x2="397.5" y2="333" stroke="#5a1e7c" stroke-width="0.9" />
<line x1="395.3" y1="318.5" x2="399.7" y2="318.5" stroke="#5a1e7c" stroke-width="0.9" />
<line x1="395.3" y1="333" x2="399.7" y2="333" stroke="#5a1e7c" stroke-width="0.9" />
<line x1="411.25" y1="348" x2="411.25" y2="361" stroke="#18468c" stroke-width="0.9" />
<line x1="409.05" y1="348" x2="413.45" y2="348" stroke="#18468c" stroke-width="0.9" />
<line x1="409.05" y1="361" x2="413.45" y2="361" stroke="#18468c" stroke-width="0.9" />
<line x1="425" y1="355.5" x2="425" y2="361" stroke="#18468c" stroke-width="0.9" />
<line x1="422.8" y1="355.5" x2="427.2" y2="355.5" stroke="#18468c" stroke-width="0.9" />
<line x1="422.8" y1="361" x2="427.2" y2="361" stroke="#18468c" stroke-width="0.9" />
<line x1="438.5" y1="365.5" x2="438.5" y2="373" stroke="#c6082a" stroke-width="0.9" />
<line x1="436.3" y1="365.5" x2="440.7" y2="365.5" stroke="#c6082a" stroke-width="0.9" />
<line x1="436.3" y1="373" x2="440.7" y2="373" stroke="#c6082a" stroke-width="0.9" />
<circle cx="395.50" cy="319.30" r="2.1" fill="#5a1e7c" />
<circle cx="400.20" cy="322.20" r="2.1" fill="#5a1e7c" />
<circle cx="397.50" cy="330.70" r="2.1" fill="#5a1e7c" />
<circle cx="408.80" cy="348.00" r="2.1" fill="#18468c" />
<circle cx="413.50" cy="352.30" r="2.1" fill="#18468c" />
<circle cx="411.00" cy="360.00" r="2.1" fill="#18468c" />
<circle cx="423.30" cy="355.30" r="2.1" fill="#18468c" />
<circle cx="426.70" cy="357.20" r="2.1" fill="#18468c" />
<circle cx="425.00" cy="358.80" r="2.1" fill="#18468c" />
<circle cx="438.50" cy="365.50" r="2.1" fill="#c6082a" />
<circle cx="441.00" cy="370.00" r="2.1" fill="#c6082a" />
<circle cx="436.30" cy="372.00" r="2.1" fill="#c6082a" />
<circle cx="450.30" cy="370.70" r="2.1" fill="#c6082a" />
<circle cx="453.70" cy="370.70" r="2.1" fill="#c6082a" />
<circle cx="452.00" cy="371.80" r="2.1" fill="#c6082a" />
<path d="M395,272.6 L395,270 L451.75,270 L451.75,272.6" fill="none" stroke="#111" stroke-width="1.1" />
<text font-size="8" text-anchor="middle" textLength="12.8" lengthAdjust="spacingAndGlyphs" style="fill:#111;stroke:#111;stroke-width:0.12px" x="423.375" y="269.5" >****</text>
<path d="M411.25,278.90000000000003 L411.25,276.3 L451.75,276.3 L451.75,278.90000000000003" fill="none" stroke="#111" stroke-width="1.1" />
<text font-size="8" text-anchor="middle" textLength="6.1" lengthAdjust="spacingAndGlyphs" style="fill:#111;stroke:#111;stroke-width:0.12px" x="431.5" y="275.8" >**</text>
<path d="M395,288.90000000000003 L395,286.3 L423,286.3 L423,288.90000000000003" fill="none" stroke="#111" stroke-width="1.1" />
<text font-size="8" text-anchor="middle" textLength="12.8" lengthAdjust="spacingAndGlyphs" style="fill:#111;stroke:#111;stroke-width:0.12px" x="409.0" y="285.8" >****</text>
<path d="M425.5,288.90000000000003 L425.5,286.3 L451.75,286.3 L451.75,288.90000000000003" fill="none" stroke="#111" stroke-width="1.1" />
<text font-size="8" text-anchor="middle" textLength="2.9" lengthAdjust="spacingAndGlyphs" style="fill:#111;stroke:#111;stroke-width:0.12px" x="438.625" y="285.8" >*</text>
<path d="M395,298.40000000000003 L395,295.8 L437.5,295.8 L437.5,298.40000000000003" fill="none" stroke="#111" stroke-width="1.1" />
<text font-size="8" text-anchor="middle" textLength="12.8" lengthAdjust="spacingAndGlyphs" style="fill:#111;stroke:#111;stroke-width:0.12px" x="416.25" y="295.3" >****</text>
<path d="M409.5,305.6 L409.5,303 L436.25,303 L436.25,305.6" fill="none" stroke="#111" stroke-width="1.1" />
<text font-size="8" text-anchor="middle" textLength="2.9" lengthAdjust="spacingAndGlyphs" style="fill:#111;stroke:#111;stroke-width:0.12px" x="422.875" y="302.5" >*</text>
<path d="M395,313.90000000000003 L395,311.3 L407.5,311.3 L407.5,313.90000000000003" fill="none" stroke="#111" stroke-width="1.1" />
<text font-size="8" text-anchor="middle" textLength="9.5" lengthAdjust="spacingAndGlyphs" style="fill:#111;stroke:#111;stroke-width:0.12px" x="401.25" y="310.8" >***</text>
<text font-size="10" text-anchor="middle" textLength="41" lengthAdjust="spacingAndGlyphs" class="k" transform="translate(356.8 321.6) rotate(-90)" >CD69 (MFI)</text>
<text font-size="13.4" textLength="9.4" lengthAdjust="spacingAndGlyphs" font-weight="bold" style="fill:#000;stroke:#000;stroke-width:0.45px" x="52.5" y="443.5" >C</text>
<rect x="69.3" y="448.6" width="65" height="50.6" fill="#fff" stroke="#2f78c0" stroke-width="1.1" />
<path d="M134.3,448.6 L157.5,474.4 M134.3,499.2 L154.5,482.7" fill="none" stroke="#2f78c0" stroke-width="1.0" />
<rect x="74.9" y="483.8" width="52.8" height="7.7" fill="#999999" />
<g stroke="#7d7d7d" stroke-width="0.5">
<line x1="74.9" y1="485.4" x2="127.7" y2="485.4" stroke="#8a8a8a" stroke-width="0.5" stroke-dasharray="0.7 0.7"/>
<line x1="74.9" y1="487.6" x2="127.7" y2="487.6" stroke="#8a8a8a" stroke-width="0.5" stroke-dasharray="0.7 0.7"/>
<line x1="74.9" y1="489.8" x2="127.7" y2="489.8" stroke="#8a8a8a" stroke-width="0.5" stroke-dasharray="0.7 0.7"/>
</g>
<path d="M87.7,471 L87.7,494.6 A2.7,2.7 0 0 0 93.1,494.6 L93.1,478.3 A2.7,2.7 0 0 1 98.5,478.3 L98.5,494.6 A2.7,2.7 0 0 0 103.9,494.6 L103.9,478.3 A2.7,2.7 0 0 1 109.3,478.3 L109.3,494.6 A2,2.4 0 0 0 113.3,494.6 L113.3,478.90000000000003 A1.9,2.3 0 0 1 117.1,478.90000000000003 L117.1,495.4" fill="none" stroke="#b8141c" stroke-width="1.25" stroke-linejoin="round"/>
<circle cx="78.70" cy="460.00" r="5.1" fill="#e9a3d1" />
<circle cx="88.90" cy="466.90" r="6.0" fill="#f39208" />
<text font-size="4.8" text-anchor="middle" textLength="7.4" lengthAdjust="spacingAndGlyphs" style="fill:#8a2a78;stroke:#8a2a78" x="78.7" y="461.7" >HEL</text>
<text font-size="5.2" text-anchor="middle" textLength="8.8" lengthAdjust="spacingAndGlyphs" style="fill:#4a2200;stroke:#4a2200" x="88.9" y="468.7" >OVA</text>
<text font-size="5" text-anchor="middle" textLength="11.5" lengthAdjust="spacingAndGlyphs" style="fill:#333;stroke:#333" x="119.3" y="460.6" >Duffy</text>
<line x1="117.7" y1="462.6" x2="115.2" y2="469.5" stroke="#111" stroke-width="0.7" />
<path d="M114.5,471.8 L113.9,468.2 L116.9,469.3 Z" fill="#111" />
<g transform="translate(159.2 478.6) rotate(14)"><ellipse rx="5.8" ry="3.7" fill="#b51219"/><ellipse rx="5.1" ry="3.0" fill="#db1a22"/><ellipse rx="3.0" ry="1.5" fill="#c2151c"/></g>
<g transform="translate(186.7 479) rotate(14)"><ellipse rx="5.8" ry="3.7" fill="#b51219"/><ellipse rx="5.1" ry="3.0" fill="#db1a22"/><ellipse rx="3.0" ry="1.5" fill="#c2151c"/></g>
<g transform="translate(174.6 485.6) rotate(14)"><ellipse rx="5.8" ry="3.7" fill="#b51219"/><ellipse rx="5.1" ry="3.0" fill="#db1a22"/><ellipse rx="3.0" ry="1.5" fill="#c2151c"/></g>
<g transform="translate(161.5 489.7) rotate(14)"><ellipse rx="5.8" ry="3.7" fill="#b51219"/><ellipse rx="5.1" ry="3.0" fill="#db1a22"/><ellipse rx="3.0" ry="1.5" fill="#c2151c"/></g>
<g transform="translate(187.5 491) rotate(14)"><ellipse rx="5.8" ry="3.7" fill="#b51219"/><ellipse rx="5.1" ry="3.0" fill="#db1a22"/><ellipse rx="3.0" ry="1.5" fill="#c2151c"/></g>
<text font-size="7.9" text-anchor="middle" textLength="22.6" lengthAdjust="spacingAndGlyphs" x="165" y="454" >HOD+</text>
<text font-size="7.9" text-anchor="middle" textLength="18.6" lengthAdjust="spacingAndGlyphs" x="166.5" y="463" >RBCs</text>
<line x1="196" y1="474" x2="221.5" y2="474" stroke="#111" stroke-width="1.1" />
<path d="M224.5,474 L219.1,471.4 L220.4,474 L219.1,476.6 Z" fill="#111" />
<line x1="327" y1="474" x2="352.5" y2="474" stroke="#111" stroke-width="1.1" />
<path d="M355.5,474 L350.1,471.4 L351.4,474 L350.1,476.6 Z" fill="#111" />
<g transform="translate(228.8 434) rotate(37.5)">
<rect x="0" y="-0.4" width="6" height="0.8" fill="#b8bcc0"/>
<rect x="-0.6" y="-1.9" width="1.4" height="3.8" fill="#b8bcc0"/>
<rect x="5" y="-2.3" width="0.9" height="4.6" fill="#b0b5ba"/>
<rect x="5.9" y="-1.5" width="19" height="3.0" fill="#eef1f3" stroke="#b5bcc2" stroke-width="0.4"/>
<rect x="14" y="-1.4" width="10.7" height="2.8" fill="#b8151c"/>
<rect x="12.9" y="-1.4" width="1.1" height="2.8" fill="#8a8f94"/>
<path d="M24.9,-1.0 L27.2,-0.5 L27.2,0.5 L24.9,1.0 Z" fill="#b08a8a"/>
<rect x="27.2" y="-0.25" width="10.8" height="0.5" fill="#a05a5a"/>
</g>
<g transform="translate(282.9 470.6) scale(0.96)">
<path d="M0,-13 C-0.5,-15.6 -2.5,-16.9 -5.5,-16.4 C-10,-15.7 -12,-11.6 -15.5,-10.6 C-17.5,-10.1 -19,-10.2 -20.4,-10.6" fill="none" stroke="#111" stroke-width="1.25" stroke-linecap="round"/>
<path d="M0,-13.3 C6,-13.3 10.8,-7 10.8,0 C10.8,4 9,6.5 6,7 L-6,7 C-9,6.5 -10.8,4 -10.8,0 C-10.8,-7 -6,-13.3 0,-13.3 Z" fill="#0b0b0b"/>
<ellipse cx="-7.2" cy="2.0" rx="4.8" ry="4.1" fill="#3b2a1a"/>
<ellipse cx="7.2" cy="2.0" rx="4.8" ry="4.1" fill="#3b2a1a"/>
<ellipse cx="-6.9" cy="2.1" rx="3.8" ry="3.1" fill="#f4d3a0" transform="rotate(-14 -6.9 2.1)"/>
<ellipse cx="6.9" cy="2.1" rx="3.8" ry="3.1" fill="#f4d3a0" transform="rotate(14 6.9 2.1)"/>
<path d="M-3,-2 L3,-2 L4.2,1 C5.6,3 6,5 5.6,7 C5,10.5 3,13.3 0,13.3 C-3,13.3 -5,10.5 -5.6,7 C-6,5 -5.6,3 -4.2,1 Z" fill="#0b0b0b"/>
<circle cx="-2.8" cy="7.8" r="0.85" fill="#cfd8dc"/><circle cx="2.8" cy="7.8" r="0.85" fill="#cfd8dc"/>
<ellipse cx="0" cy="12.1" rx="1.0" ry="0.7" fill="#f0e6e0"/>
<path d="M-3.6,11 L-8.2,9.8 M-3.6,11.7 L-8,12.2 M-3.4,12.4 L-6.4,14.6 M3.6,11 L8.2,9.8 M3.6,11.7 L8,12.2 M3.4,12.4 L6.4,14.6" stroke="#333" stroke-width="0.4" fill="none"/>
</g>
<text font-size="7.8" text-anchor="middle" textLength="102.8" lengthAdjust="spacingAndGlyphs" x="285.4" y="496" >PBS or anti-HEL or anti-Duffy or</text>
<text font-size="7.8" text-anchor="middle" textLength="147" lengthAdjust="spacingAndGlyphs" x="282.5" y="505.5" >anti-HEL + anti-Duffy immunized B6 mice</text>
<rect x="370" y="456" width="99" height="41" fill="none" stroke="#111" stroke-width="1.3" />
<text font-size="7.8" text-anchor="middle" textLength="29.5" lengthAdjust="spacingAndGlyphs" x="420" y="469.2" >Examine:</text>
<text font-size="7.8" text-anchor="middle" textLength="67" lengthAdjust="spacingAndGlyphs" x="419.5" y="479.4" >anti-HOD IgM, IgG</text>
<text font-size="7.8" text-anchor="middle" textLength="65.3" lengthAdjust="spacingAndGlyphs" x="419.7" y="489.2" >D3, 5, 7, 14, 21, 28</text>
<text font-size="13.4" textLength="10.2" lengthAdjust="spacingAndGlyphs" font-weight="bold" style="fill:#000;stroke:#000;stroke-width:0.45px" x="51.7" y="536.5" >D</text>
<line x1="124.3" y1="542.6999999999999" x2="124.3" y2="644.9" stroke="#111" stroke-width="1.3" />
<line x1="120.7" y1="546.3" x2="124.3" y2="546.3" stroke="#111" stroke-width="1.1" />
<text font-size="7.7" text-anchor="end" textLength="12.8" lengthAdjust="spacingAndGlyphs" class="k" x="117.3" y="549.05" >500</text>
<line x1="120.7" y1="565.9" x2="124.3" y2="565.9" stroke="#111" stroke-width="1.1" />
<text font-size="7.7" text-anchor="end" textLength="12.8" lengthAdjust="spacingAndGlyphs" class="k" x="117.3" y="568.65" >400</text>
<line x1="120.7" y1="585.5" x2="124.3" y2="585.5" stroke="#111" stroke-width="1.1" />
<text font-size="7.7" text-anchor="end" textLength="12.8" lengthAdjust="spacingAndGlyphs" class="k" x="117.3" y="588.25" >300</text>
<line x1="120.7" y1="605.1" x2="124.3" y2="605.1" stroke="#111" stroke-width="1.1" />
<text font-size="7.7" text-anchor="end" textLength="12.8" lengthAdjust="spacingAndGlyphs" class="k" x="117.3" y="607.85" >200</text>
<line x1="120.7" y1="624.7" x2="124.3" y2="624.7" stroke="#111" stroke-width="1.1" />
<text font-size="7.7" text-anchor="end" textLength="12.8" lengthAdjust="spacingAndGlyphs" class="k" x="117.3" y="627.45" >100</text>
<line x1="120.7" y1="644.3" x2="124.3" y2="644.3" stroke="#111" stroke-width="1.1" />
<text font-size="7.7" text-anchor="end" textLength="4.25" lengthAdjust="spacingAndGlyphs" class="k" x="117.3" y="647.05" >0</text>
<line x1="120.8" y1="644.3" x2="196.9" y2="644.3" stroke="#111" stroke-width="1.3" />
<line x1="134.25" y1="644.3" x2="134.25" y2="648.3" stroke="#111" stroke-width="1.1" />
<line x1="151.5" y1="644.3" x2="151.5" y2="648.3" stroke="#111" stroke-width="1.1" />
<line x1="169.25" y1="644.3" x2="169.25" y2="648.3" stroke="#111" stroke-width="1.1" />
<line x1="186.5" y1="644.3" x2="186.5" y2="648.3" stroke="#111" stroke-width="1.1" />
<circle cx="129.75" cy="644.30" r="2.1" fill="#5a1e7c" />
<circle cx="131.25" cy="643.70" r="2.1" fill="#5a1e7c" />
<circle cx="132.75" cy="644.20" r="2.1" fill="#5a1e7c" />
<circle cx="134.25" cy="643.60" r="2.1" fill="#5a1e7c" />
<circle cx="135.75" cy="644.40" r="2.1" fill="#5a1e7c" />
<circle cx="137.25" cy="643.80" r="2.1" fill="#5a1e7c" />
<circle cx="138.75" cy="644.10" r="2.1" fill="#5a1e7c" />
<circle cx="147.00" cy="644.30" r="2.1" fill="#18468c" />
<circle cx="148.50" cy="643.70" r="2.1" fill="#18468c" />
<circle cx="150.00" cy="644.20" r="2.1" fill="#18468c" />
<circle cx="151.50" cy="643.60" r="2.1" fill="#18468c" />
<circle cx="153.00" cy="644.40" r="2.1" fill="#18468c" />
<circle cx="154.50" cy="643.80" r="2.1" fill="#18468c" />
<circle cx="156.00" cy="644.10" r="2.1" fill="#18468c" />
<circle cx="164.75" cy="644.30" r="2.1" fill="#c6082a" />
<circle cx="166.25" cy="643.70" r="2.1" fill="#c6082a" />
<circle cx="167.75" cy="644.20" r="2.1" fill="#c6082a" />
<circle cx="169.25" cy="643.60" r="2.1" fill="#c6082a" />
<circle cx="170.75" cy="644.40" r="2.1" fill="#c6082a" />
<circle cx="172.25" cy="643.80" r="2.1" fill="#c6082a" />
<circle cx="173.75" cy="644.10" r="2.1" fill="#c6082a" />
<circle cx="182.00" cy="644.30" r="2.1" fill="#38ad47" />
<circle cx="183.50" cy="643.70" r="2.1" fill="#38ad47" />
<circle cx="185.00" cy="644.20" r="2.1" fill="#38ad47" />
<circle cx="186.50" cy="643.60" r="2.1" fill="#38ad47" />
<circle cx="188.00" cy="644.40" r="2.1" fill="#38ad47" />
<circle cx="189.50" cy="643.80" r="2.1" fill="#38ad47" />
<circle cx="191.00" cy="644.10" r="2.1" fill="#38ad47" />
<text font-size="9.8" text-anchor="middle" textLength="12.6" lengthAdjust="spacingAndGlyphs" x="159.8" y="537.1" >D3</text>
<text font-size="10" text-anchor="middle" textLength="70" lengthAdjust="spacingAndGlyphs" class="k" transform="translate(97.5 592.6) rotate(-90)" >Anti-HEL IgM (MFI)</text>
<text font-size="7.8" text-anchor="end" textLength="31.2" lengthAdjust="spacingAndGlyphs" x="117.4" y="658.1" >anti-HEL:</text>
<text font-size="7.8" text-anchor="end" textLength="36" lengthAdjust="spacingAndGlyphs" x="117.4" y="670.5" >anti-Duffy:</text>
<rect x="260.5" y="636" width="10.4" height="8.3" fill="#a787b8" />
<line x1="256.5" y1="542.6999999999999" x2="256.5" y2="644.9" stroke="#111" stroke-width="1.3" />
<line x1="252.9" y1="546.3" x2="256.5" y2="546.3" stroke="#111" stroke-width="1.1" />
<text font-size="7.7" text-anchor="end" textLength="12.8" lengthAdjust="spacingAndGlyphs" class="k" x="249.5" y="549.05" >500</text>
<line x1="252.9" y1="565.9" x2="256.5" y2="565.9" stroke="#111" stroke-width="1.1" />
<text font-size="7.7" text-anchor="end" textLength="12.8" lengthAdjust="spacingAndGlyphs" class="k" x="249.5" y="568.65" >400</text>
<line x1="252.9" y1="585.5" x2="256.5" y2="585.5" stroke="#111" stroke-width="1.1" />
<text font-size="7.7" text-anchor="end" textLength="12.8" lengthAdjust="spacingAndGlyphs" class="k" x="249.5" y="588.25" >300</text>
<line x1="252.9" y1="605.1" x2="256.5" y2="605.1" stroke="#111" stroke-width="1.1" />
<text font-size="7.7" text-anchor="end" textLength="12.8" lengthAdjust="spacingAndGlyphs" class="k" x="249.5" y="607.85" >200</text>
<line x1="252.9" y1="624.7" x2="256.5" y2="624.7" stroke="#111" stroke-width="1.1" />
<text font-size="7.7" text-anchor="end" textLength="12.8" lengthAdjust="spacingAndGlyphs" class="k" x="249.5" y="627.45" >100</text>
<line x1="252.9" y1="644.3" x2="256.5" y2="644.3" stroke="#111" stroke-width="1.1" />
<text font-size="7.7" text-anchor="end" textLength="4.25" lengthAdjust="spacingAndGlyphs" class="k" x="249.5" y="647.05" >0</text>
<line x1="253" y1="644.3" x2="327" y2="644.3" stroke="#111" stroke-width="1.3" />
<line x1="265.7" y1="644.3" x2="265.7" y2="648.3" stroke="#111" stroke-width="1.1" />
<line x1="283" y1="644.3" x2="283" y2="648.3" stroke="#111" stroke-width="1.1" />
<line x1="300.8" y1="644.3" x2="300.8" y2="648.3" stroke="#111" stroke-width="1.1" />
<line x1="318.5" y1="644.3" x2="318.5" y2="648.3" stroke="#111" stroke-width="1.1" />
<circle cx="265.70" cy="628.30" r="2.2" fill="#5a1e7c" />
<circle cx="265.70" cy="631.30" r="2.2" fill="#5a1e7c" />
<circle cx="264.20" cy="633.80" r="2.2" fill="#5a1e7c" />
<circle cx="267.20" cy="633.80" r="2.2" fill="#5a1e7c" />
<circle cx="261.90" cy="636.60" r="2.2" fill="#5a1e7c" />
<circle cx="264.40" cy="636.40" r="2.2" fill="#5a1e7c" />
<circle cx="267.00" cy="636.40" r="2.2" fill="#5a1e7c" />
<circle cx="269.50" cy="636.60" r="2.2" fill="#5a1e7c" />
<circle cx="262.40" cy="639.30" r="2.2" fill="#5a1e7c" />
<circle cx="265.70" cy="639.30" r="2.2" fill="#5a1e7c" />
<circle cx="269.00" cy="639.30" r="2.2" fill="#5a1e7c" />
<circle cx="263.00" cy="641.80" r="2.2" fill="#5a1e7c" />
<circle cx="265.70" cy="642.00" r="2.2" fill="#5a1e7c" />
<circle cx="268.40" cy="641.80" r="2.2" fill="#5a1e7c" />
<circle cx="264.30" cy="643.40" r="2.2" fill="#5a1e7c" />
<circle cx="267.10" cy="643.40" r="2.2" fill="#5a1e7c" />
<circle cx="278.75" cy="643.70" r="2.1" fill="#18468c" />
<circle cx="280.45" cy="642.90" r="2.1" fill="#18468c" />
<circle cx="282.15" cy="643.60" r="2.1" fill="#18468c" />
<circle cx="283.85" cy="643.10" r="2.1" fill="#18468c" />
<circle cx="285.55" cy="643.70" r="2.1" fill="#18468c" />
<circle cx="287.25" cy="642.90" r="2.1" fill="#18468c" />
<circle cx="300.80" cy="638.60" r="2.2" fill="#c6082a" />
<circle cx="298.80" cy="640.80" r="2.2" fill="#c6082a" />
<circle cx="302.80" cy="640.80" r="2.2" fill="#c6082a" />
<circle cx="296.80" cy="642.80" r="2.2" fill="#c6082a" />
<circle cx="299.50" cy="643.00" r="2.2" fill="#c6082a" />
<circle cx="302.20" cy="643.00" r="2.2" fill="#c6082a" />
<circle cx="304.90" cy="642.80" r="2.2" fill="#c6082a" />
<circle cx="313.75" cy="643.70" r="2.1" fill="#38ad47" />
<circle cx="315.65" cy="643.00" r="2.1" fill="#38ad47" />
<circle cx="317.55" cy="643.60" r="2.1" fill="#38ad47" />
<circle cx="319.45" cy="643.10" r="2.1" fill="#38ad47" />
<circle cx="321.35" cy="643.70" r="2.1" fill="#38ad47" />
<circle cx="323.25" cy="643.00" r="2.1" fill="#38ad47" />
<path d="M265.4,556.9000000000001 L265.4,553.7 L314.4,553.7 L314.4,556.9000000000001" fill="none" stroke="#111" stroke-width="1.1" />
<text font-size="8" text-anchor="middle" textLength="12.8" lengthAdjust="spacingAndGlyphs" style="fill:#111;stroke:#111;stroke-width:0.12px" x="289.9" y="553.2" >****</text>
<path d="M265.4,565.6 L265.4,562.4 L297,562.4 L297,565.6" fill="none" stroke="#111" stroke-width="1.1" />
<text font-size="8" text-anchor="middle" textLength="12.8" lengthAdjust="spacingAndGlyphs" style="fill:#111;stroke:#111;stroke-width:0.12px" x="281.2" y="561.9" >****</text>
<path d="M265.4,574.9000000000001 L265.4,571.7 L279.4,571.7 L279.4,574.9000000000001" fill="none" stroke="#111" stroke-width="1.1" />
<text font-size="8" text-anchor="middle" textLength="12.8" lengthAdjust="spacingAndGlyphs" style="fill:#111;stroke:#111;stroke-width:0.12px" x="272.4" y="571.2" >****</text>
<text font-size="9.8" text-anchor="middle" textLength="12.6" lengthAdjust="spacingAndGlyphs" x="292.0" y="537.1" >D5</text>
<text font-size="10" text-anchor="middle" textLength="70.5" lengthAdjust="spacingAndGlyphs" class="k" transform="translate(229.4 592.4) rotate(-90)" >Anti-HEL IgM (MFI)</text>
<rect x="391.9" y="628.5" width="11" height="15.8" fill="#a787b8" />
<rect x="426.9" y="618.5" width="11.4" height="25.8" fill="#ec8b80" />
<rect x="444.6" y="636" width="11" height="8.3" fill="#d9f0d3" />
<line x1="388.5" y1="542.6999999999999" x2="388.5" y2="644.9" stroke="#111" stroke-width="1.3" />
<line x1="384.9" y1="546.3" x2="388.5" y2="546.3" stroke="#111" stroke-width="1.1" />
<text font-size="7.7" text-anchor="end" textLength="12.8" lengthAdjust="spacingAndGlyphs" class="k" x="381.5" y="549.05" >500</text>
<line x1="384.9" y1="565.9" x2="388.5" y2="565.9" stroke="#111" stroke-width="1.1" />
<text font-size="7.7" text-anchor="end" textLength="12.8" lengthAdjust="spacingAndGlyphs" class="k" x="381.5" y="568.65" >400</text>
<line x1="384.9" y1="585.5" x2="388.5" y2="585.5" stroke="#111" stroke-width="1.1" />
<text font-size="7.7" text-anchor="end" textLength="12.8" lengthAdjust="spacingAndGlyphs" class="k" x="381.5" y="588.25" >300</text>
<line x1="384.9" y1="605.1" x2="388.5" y2="605.1" stroke="#111" stroke-width="1.1" />
<text font-size="7.7" text-anchor="end" textLength="12.8" lengthAdjust="spacingAndGlyphs" class="k" x="381.5" y="607.85" >200</text>
<line x1="384.9" y1="624.7" x2="388.5" y2="624.7" stroke="#111" stroke-width="1.1" />
<text font-size="7.7" text-anchor="end" textLength="12.8" lengthAdjust="spacingAndGlyphs" class="k" x="381.5" y="627.45" >100</text>
<line x1="384.9" y1="644.3" x2="388.5" y2="644.3" stroke="#111" stroke-width="1.1" />
<text font-size="7.7" text-anchor="end" textLength="4.25" lengthAdjust="spacingAndGlyphs" class="k" x="381.5" y="647.05" >0</text>
<line x1="385.2" y1="644.3" x2="459.7" y2="644.3" stroke="#111" stroke-width="1.3" />
<line x1="397.4" y1="644.3" x2="397.4" y2="648.3" stroke="#111" stroke-width="1.1" />
<line x1="415" y1="644.3" x2="415" y2="648.3" stroke="#111" stroke-width="1.1" />
<line x1="432.6" y1="644.3" x2="432.6" y2="648.3" stroke="#111" stroke-width="1.1" />
<line x1="450.1" y1="644.3" x2="450.1" y2="648.3" stroke="#111" stroke-width="1.1" />
<line x1="397.4" y1="624" x2="397.4" y2="633" stroke="#5a1e7c" stroke-width="0.9" />
<line x1="394.59999999999997" y1="624" x2="400.2" y2="624" stroke="#5a1e7c" stroke-width="0.9" />
<line x1="394.59999999999997" y1="633" x2="400.2" y2="633" stroke="#5a1e7c" stroke-width="0.9" />
<line x1="432.6" y1="613" x2="432.6" y2="619" stroke="#c6082a" stroke-width="0.9" />
<line x1="429" y1="613" x2="435.8" y2="613" stroke="#c6082a" stroke-width="0.9" />
<circle cx="397.40" cy="607.70" r="2.2" fill="#5a1e7c" />
<circle cx="397.40" cy="622.30" r="2.2" fill="#5a1e7c" />
<circle cx="394.30" cy="629.00" r="2.2" fill="#5a1e7c" />
<circle cx="397.40" cy="627.00" r="2.2" fill="#5a1e7c" />
<circle cx="400.50" cy="629.00" r="2.2" fill="#5a1e7c" />
<circle cx="396.20" cy="630.50" r="2.2" fill="#5a1e7c" />
<circle cx="399.00" cy="631.60" r="2.2" fill="#5a1e7c" />
<circle cx="397.40" cy="632.30" r="2.2" fill="#5a1e7c" />
<circle cx="401.20" cy="629.30" r="2.2" fill="#5a1e7c" />
<circle cx="397.40" cy="642.00" r="2.2" fill="#5a1e7c" />
<circle cx="412.00" cy="640.60" r="2.2" fill="#18468c" />
<circle cx="410.50" cy="642.60" r="2.2" fill="#18468c" />
<circle cx="413.40" cy="642.60" r="2.2" fill="#18468c" />
<circle cx="416.00" cy="642.00" r="2.2" fill="#18468c" />
<circle cx="418.50" cy="642.40" r="2.2" fill="#18468c" />
<circle cx="414.50" cy="643.40" r="2.2" fill="#18468c" />
<circle cx="420.00" cy="643.00" r="2.2" fill="#18468c" />
<circle cx="430.50" cy="589.50" r="2.2" fill="#c6082a" />
<circle cx="432.80" cy="590.80" r="2.2" fill="#c6082a" />
<circle cx="432.00" cy="619.20" r="2.2" fill="#c6082a" />
<circle cx="431.20" cy="624.60" r="2.2" fill="#c6082a" />
<circle cx="434.30" cy="624.60" r="2.2" fill="#c6082a" />
<circle cx="429.00" cy="629.20" r="2.2" fill="#c6082a" />
<circle cx="432.00" cy="629.20" r="2.2" fill="#c6082a" />
<circle cx="435.80" cy="629.20" r="2.2" fill="#c6082a" />
<circle cx="433.50" cy="621.50" r="2.2" fill="#c6082a" />
<circle cx="430.20" cy="627.00" r="2.2" fill="#c6082a" />
<circle cx="448.20" cy="629.50" r="2.2" fill="#38ad47" />
<circle cx="446.30" cy="633.80" r="2.2" fill="#38ad47" />
<circle cx="449.70" cy="633.10" r="2.2" fill="#38ad47" />
<circle cx="452.00" cy="633.50" r="2.2" fill="#38ad47" />
<circle cx="454.30" cy="634.60" r="2.2" fill="#38ad47" />
<circle cx="446.60" cy="638.50" r="2.2" fill="#38ad47" />
<circle cx="450.50" cy="637.70" r="2.2" fill="#38ad47" />
<circle cx="453.50" cy="639.20" r="2.2" fill="#38ad47" />
<circle cx="448.20" cy="640.80" r="2.2" fill="#38ad47" />
<circle cx="451.20" cy="640.80" r="2.2" fill="#38ad47" />
<path d="M396.8,574.9000000000001 L396.8,571.7 L411.6,571.7 L411.6,574.9000000000001" fill="none" stroke="#111" stroke-width="1.1" />
<text font-size="8" text-anchor="middle" textLength="6.1" lengthAdjust="spacingAndGlyphs" style="fill:#111;stroke:#111;stroke-width:0.12px" x="404.20000000000005" y="571.2" >**</text>
<path d="M414.3,574.9000000000001 L414.3,571.7 L429.6,571.7 L429.6,574.9000000000001" fill="none" stroke="#111" stroke-width="1.1" />
<text font-size="8" text-anchor="middle" textLength="12.8" lengthAdjust="spacingAndGlyphs" style="fill:#111;stroke:#111;stroke-width:0.12px" x="421.95000000000005" y="571.2" >****</text>
<path d="M432.3,574.9000000000001 L432.3,571.7 L447.1,571.7 L447.1,574.9000000000001" fill="none" stroke="#111" stroke-width="1.1" />
<text font-size="8" text-anchor="middle" textLength="9.5" lengthAdjust="spacingAndGlyphs" style="fill:#111;stroke:#111;stroke-width:0.12px" x="439.70000000000005" y="571.2" >***</text>
<text font-size="9.8" text-anchor="middle" textLength="12.6" lengthAdjust="spacingAndGlyphs" x="424.0" y="537.1" >D7</text>
<text font-size="10" text-anchor="middle" textLength="70.5" lengthAdjust="spacingAndGlyphs" class="k" transform="translate(361.4 592.4) rotate(-90)" >Anti-HEL IgM (MFI)</text>
<line x1="132.15" y1="655.9" x2="136.35" y2="655.9" stroke="#3a3a3a" stroke-width="0.85" />
<line x1="149.6" y1="655.9" x2="153.4" y2="655.9" stroke="#3a3a3a" stroke-width="0.85" />
<line x1="151.5" y1="654.0" x2="151.5" y2="657.8" stroke="#3a3a3a" stroke-width="0.85" />
<line x1="167.15" y1="655.9" x2="171.35" y2="655.9" stroke="#3a3a3a" stroke-width="0.85" />
<line x1="184.6" y1="655.9" x2="188.4" y2="655.9" stroke="#3a3a3a" stroke-width="0.85" />
<line x1="186.5" y1="654.0" x2="186.5" y2="657.8" stroke="#3a3a3a" stroke-width="0.85" />
<line x1="132.15" y1="668.2" x2="136.35" y2="668.2" stroke="#3a3a3a" stroke-width="0.85" />
<line x1="149.4" y1="668.2" x2="153.6" y2="668.2" stroke="#3a3a3a" stroke-width="0.85" />
<line x1="167.35" y1="668.2" x2="171.15" y2="668.2" stroke="#3a3a3a" stroke-width="0.85" />
<line x1="169.25" y1="666.3000000000001" x2="169.25" y2="670.1" stroke="#3a3a3a" stroke-width="0.85" />
<line x1="184.6" y1="668.2" x2="188.4" y2="668.2" stroke="#3a3a3a" stroke-width="0.85" />
<line x1="186.5" y1="666.3000000000001" x2="186.5" y2="670.1" stroke="#3a3a3a" stroke-width="0.85" />
<line x1="263.59999999999997" y1="655.9" x2="267.8" y2="655.9" stroke="#3a3a3a" stroke-width="0.85" />
<line x1="281.1" y1="655.9" x2="284.9" y2="655.9" stroke="#3a3a3a" stroke-width="0.85" />
<line x1="283" y1="654.0" x2="283" y2="657.8" stroke="#3a3a3a" stroke-width="0.85" />
<line x1="298.7" y1="655.9" x2="302.90000000000003" y2="655.9" stroke="#3a3a3a" stroke-width="0.85" />
<line x1="316.6" y1="655.9" x2="320.4" y2="655.9" stroke="#3a3a3a" stroke-width="0.85" />
<line x1="318.5" y1="654.0" x2="318.5" y2="657.8" stroke="#3a3a3a" stroke-width="0.85" />
<line x1="263.59999999999997" y1="668.2" x2="267.8" y2="668.2" stroke="#3a3a3a" stroke-width="0.85" />
<line x1="280.9" y1="668.2" x2="285.1" y2="668.2" stroke="#3a3a3a" stroke-width="0.85" />
<line x1="298.90000000000003" y1="668.2" x2="302.7" y2="668.2" stroke="#3a3a3a" stroke-width="0.85" />
<line x1="300.8" y1="666.3000000000001" x2="300.8" y2="670.1" stroke="#3a3a3a" stroke-width="0.85" />
<line x1="316.6" y1="668.2" x2="320.4" y2="668.2" stroke="#3a3a3a" stroke-width="0.85" />
<line x1="318.5" y1="666.3000000000001" x2="318.5" y2="670.1" stroke="#3a3a3a" stroke-width="0.85" />
<line x1="395.29999999999995" y1="655.9" x2="399.5" y2="655.9" stroke="#3a3a3a" stroke-width="0.85" />
<line x1="413.1" y1="655.9" x2="416.9" y2="655.9" stroke="#3a3a3a" stroke-width="0.85" />
<line x1="415" y1="654.0" x2="415" y2="657.8" stroke="#3a3a3a" stroke-width="0.85" />
<line x1="430.5" y1="655.9" x2="434.70000000000005" y2="655.9" stroke="#3a3a3a" stroke-width="0.85" />
<line x1="448.20000000000005" y1="655.9" x2="452.0" y2="655.9" stroke="#3a3a3a" stroke-width="0.85" />
<line x1="450.1" y1="654.0" x2="450.1" y2="657.8" stroke="#3a3a3a" stroke-width="0.85" />
<line x1="395.29999999999995" y1="668.2" x2="399.5" y2="668.2" stroke="#3a3a3a" stroke-width="0.85" />
<line x1="412.9" y1="668.2" x2="417.1" y2="668.2" stroke="#3a3a3a" stroke-width="0.85" />
<line x1="430.70000000000005" y1="668.2" x2="434.5" y2="668.2" stroke="#3a3a3a" stroke-width="0.85" />
<line x1="432.6" y1="666.3000000000001" x2="432.6" y2="670.1" stroke="#3a3a3a" stroke-width="0.85" />
<line x1="448.20000000000005" y1="668.2" x2="452.0" y2="668.2" stroke="#3a3a3a" stroke-width="0.85" />
<line x1="450.1" y1="666.3000000000001" x2="450.1" y2="670.1" stroke="#3a3a3a" stroke-width="0.85" />
<text font-size="13.4" textLength="7.8" lengthAdjust="spacingAndGlyphs" font-weight="bold" style="fill:#000;stroke:#000;stroke-width:0.45px" x="53.6" y="702.5" >E</text>
<rect x="164.45" y="773.8" width="9.6" height="35.8" fill="#ec8b80" />
<line x1="124.5" y1="709.0" x2="124.5" y2="810.2" stroke="#111" stroke-width="1.3" />
<line x1="120.9" y1="712.6" x2="124.5" y2="712.6" stroke="#111" stroke-width="1.1" />
<text font-size="7.7" text-anchor="end" textLength="17.0" lengthAdjust="spacingAndGlyphs" class="k" x="117.5" y="715.35" >1200</text>
<line x1="120.9" y1="736.9" x2="124.5" y2="736.9" stroke="#111" stroke-width="1.1" />
<text font-size="7.7" text-anchor="end" textLength="12.8" lengthAdjust="spacingAndGlyphs" class="k" x="117.5" y="739.65" >900</text>
<line x1="120.9" y1="761.2" x2="124.5" y2="761.2" stroke="#111" stroke-width="1.1" />
<text font-size="7.7" text-anchor="end" textLength="12.8" lengthAdjust="spacingAndGlyphs" class="k" x="117.5" y="763.95" >600</text>
<line x1="120.9" y1="785.4" x2="124.5" y2="785.4" stroke="#111" stroke-width="1.1" />
<text font-size="7.7" text-anchor="end" textLength="12.8" lengthAdjust="spacingAndGlyphs" class="k" x="117.5" y="788.15" >300</text>
<line x1="120.9" y1="809.6" x2="124.5" y2="809.6" stroke="#111" stroke-width="1.1" />
<text font-size="7.7" text-anchor="end" textLength="4.25" lengthAdjust="spacingAndGlyphs" class="k" x="117.5" y="812.35" >0</text>
<line x1="121.3" y1="809.6" x2="196.3" y2="809.6" stroke="#111" stroke-width="1.3" />
<line x1="134.5" y1="809.6" x2="134.5" y2="813.6" stroke="#111" stroke-width="1.1" />
<line x1="152" y1="809.6" x2="152" y2="813.6" stroke="#111" stroke-width="1.1" />
<line x1="169.25" y1="809.6" x2="169.25" y2="813.6" stroke="#111" stroke-width="1.1" />
<line x1="186.75" y1="809.6" x2="186.75" y2="813.6" stroke="#111" stroke-width="1.1" />
<circle cx="169.25" cy="754.50" r="2.2" fill="#c6082a" />
<circle cx="169.25" cy="762.00" r="2.2" fill="#c6082a" />
<circle cx="165.00" cy="765.75" r="2.2" fill="#c6082a" />
<circle cx="168.75" cy="768.00" r="2.2" fill="#c6082a" />
<circle cx="166.25" cy="770.50" r="2.2" fill="#c6082a" />
<circle cx="170.50" cy="770.00" r="2.2" fill="#c6082a" />
<circle cx="173.00" cy="772.00" r="2.2" fill="#c6082a" />
<circle cx="168.00" cy="773.75" r="2.2" fill="#c6082a" />
<circle cx="171.25" cy="775.00" r="2.2" fill="#c6082a" />
<circle cx="169.25" cy="780.50" r="2.2" fill="#c6082a" />
<circle cx="132.30" cy="796.20" r="2.2" fill="#5a1e7c" />
<circle cx="135.90" cy="797.00" r="2.2" fill="#5a1e7c" />
<circle cx="134.20" cy="799.30" r="2.2" fill="#5a1e7c" />
<circle cx="132.30" cy="802.40" r="2.2" fill="#5a1e7c" />
<circle cx="135.40" cy="802.80" r="2.2" fill="#5a1e7c" />
<circle cx="130.80" cy="805.40" r="2.2" fill="#5a1e7c" />
<circle cx="134.20" cy="805.90" r="2.2" fill="#5a1e7c" />
<circle cx="137.70" cy="805.90" r="2.2" fill="#5a1e7c" />
<circle cx="132.00" cy="807.70" r="2.2" fill="#5a1e7c" />
<circle cx="136.20" cy="807.70" r="2.2" fill="#5a1e7c" />
<circle cx="130.00" cy="808.00" r="2.2" fill="#5a1e7c" />
<circle cx="138.60" cy="808.00" r="2.2" fill="#5a1e7c" />
<circle cx="134.20" cy="808.30" r="2.2" fill="#5a1e7c" />
<circle cx="152.50" cy="803.00" r="2.2" fill="#18468c" />
<circle cx="150.00" cy="806.30" r="2.2" fill="#18468c" />
<circle cx="153.80" cy="807.00" r="2.2" fill="#18468c" />
<circle cx="148.80" cy="808.50" r="2.2" fill="#18468c" />
<circle cx="152.00" cy="809.00" r="2.2" fill="#18468c" />
<circle cx="155.00" cy="809.00" r="2.2" fill="#18468c" />
<circle cx="156.30" cy="808.30" r="2.2" fill="#18468c" />
<circle cx="182.50" cy="805.00" r="2.2" fill="#38ad47" />
<circle cx="191.30" cy="803.80" r="2.2" fill="#38ad47" />
<circle cx="185.00" cy="807.50" r="2.2" fill="#38ad47" />
<circle cx="188.80" cy="808.00" r="2.2" fill="#38ad47" />
<circle cx="186.80" cy="809.30" r="2.2" fill="#38ad47" />
<circle cx="183.00" cy="809.30" r="2.2" fill="#38ad47" />
<circle cx="190.50" cy="809.30" r="2.2" fill="#38ad47" />
<path d="M135.5,721.6999999999999 L135.5,718.3 L185,718.3 L185,721.6999999999999" fill="none" stroke="#111" stroke-width="1.1" />
<text font-size="8" text-anchor="middle" textLength="2.9" lengthAdjust="spacingAndGlyphs" style="fill:#111;stroke:#111;stroke-width:0.12px" x="160.25" y="717.8" >*</text>
<path d="M135.5,730.9 L135.5,727.5 L167.5,727.5 L167.5,730.9" fill="none" stroke="#111" stroke-width="1.1" />
<text font-size="8" text-anchor="middle" textLength="12.8" lengthAdjust="spacingAndGlyphs" style="fill:#111;stroke:#111;stroke-width:0.12px" x="151.5" y="727.0" >****</text>
<path d="M135.5,742.1999999999999 L135.5,738.8 L150.5,738.8 L150.5,742.1999999999999" fill="none" stroke="#111" stroke-width="1.1" />
<text font-size="8" text-anchor="middle" textLength="6.1" lengthAdjust="spacingAndGlyphs" style="fill:#111;stroke:#111;stroke-width:0.12px" x="143.0" y="738.3" >**</text>
<path d="M153,742.1999999999999 L153,738.8 L167.5,738.8 L167.5,742.1999999999999" fill="none" stroke="#111" stroke-width="1.1" />
<text font-size="8" text-anchor="middle" textLength="12.8" lengthAdjust="spacingAndGlyphs" style="fill:#111;stroke:#111;stroke-width:0.12px" x="160.25" y="738.3" >****</text>
<path d="M170.75,742.1999999999999 L170.75,738.8 L185,738.8 L185,742.1999999999999" fill="none" stroke="#111" stroke-width="1.1" />
<text font-size="8" text-anchor="middle" textLength="12.8" lengthAdjust="spacingAndGlyphs" style="fill:#111;stroke:#111;stroke-width:0.12px" x="177.875" y="738.3" >****</text>
<text font-size="9.4" text-anchor="middle" textLength="18.8" lengthAdjust="spacingAndGlyphs" x="160.6" y="703" >D14</text>
<text font-size="10" text-anchor="middle" textLength="61.5" lengthAdjust="spacingAndGlyphs" class="k" transform="translate(94.3 759.4) rotate(-90)" >Anti-HEL IgG MFI</text>
<text font-size="7.8" text-anchor="end" textLength="31.2" lengthAdjust="spacingAndGlyphs" x="117.4" y="823.5" >anti-HEL:</text>
<text font-size="7.8" text-anchor="end" textLength="36" lengthAdjust="spacingAndGlyphs" x="117.4" y="835.6" >anti-Duffy:</text>
<rect x="296.0" y="770.8" width="9.6" height="38.8" fill="#ec8b80" />
<line x1="256.5" y1="709.0" x2="256.5" y2="810.2" stroke="#111" stroke-width="1.3" />
<line x1="252.9" y1="712.6" x2="256.5" y2="712.6" stroke="#111" stroke-width="1.1" />
<text font-size="7.7" text-anchor="end" textLength="17.0" lengthAdjust="spacingAndGlyphs" class="k" x="249.5" y="715.35" >1200</text>
<line x1="252.9" y1="736.9" x2="256.5" y2="736.9" stroke="#111" stroke-width="1.1" />
<text font-size="7.7" text-anchor="end" textLength="12.8" lengthAdjust="spacingAndGlyphs" class="k" x="249.5" y="739.65" >900</text>
<line x1="252.9" y1="761.2" x2="256.5" y2="761.2" stroke="#111" stroke-width="1.1" />
<text font-size="7.7" text-anchor="end" textLength="12.8" lengthAdjust="spacingAndGlyphs" class="k" x="249.5" y="763.95" >600</text>
<line x1="252.9" y1="785.4" x2="256.5" y2="785.4" stroke="#111" stroke-width="1.1" />
<text font-size="7.7" text-anchor="end" textLength="12.8" lengthAdjust="spacingAndGlyphs" class="k" x="249.5" y="788.15" >300</text>
<line x1="252.9" y1="809.6" x2="256.5" y2="809.6" stroke="#111" stroke-width="1.1" />
<text font-size="7.7" text-anchor="end" textLength="4.25" lengthAdjust="spacingAndGlyphs" class="k" x="249.5" y="812.35" >0</text>
<line x1="253" y1="809.6" x2="327" y2="809.6" stroke="#111" stroke-width="1.3" />
<line x1="265.8" y1="809.6" x2="265.8" y2="813.6" stroke="#111" stroke-width="1.1" />
<line x1="283" y1="809.6" x2="283" y2="813.6" stroke="#111" stroke-width="1.1" />
<line x1="300.8" y1="809.6" x2="300.8" y2="813.6" stroke="#111" stroke-width="1.1" />
<line x1="318.5" y1="809.6" x2="318.5" y2="813.6" stroke="#111" stroke-width="1.1" />
<circle cx="300.80" cy="752.30" r="2.2" fill="#c6082a" />
<circle cx="300.80" cy="758.90" r="2.2" fill="#c6082a" />
<circle cx="298.90" cy="764.30" r="2.2" fill="#c6082a" />
<circle cx="302.80" cy="765.40" r="2.2" fill="#c6082a" />
<circle cx="300.80" cy="769.50" r="2.2" fill="#c6082a" />
<circle cx="296.90" cy="773.80" r="2.2" fill="#c6082a" />
<circle cx="300.80" cy="772.30" r="2.2" fill="#c6082a" />
<circle cx="304.60" cy="775.40" r="2.2" fill="#c6082a" />
<circle cx="300.80" cy="776.20" r="2.2" fill="#c6082a" />
<circle cx="296.90" cy="780.80" r="2.2" fill="#c6082a" />
<circle cx="304.60" cy="780.00" r="2.2" fill="#c6082a" />
<circle cx="302.30" cy="777.70" r="2.2" fill="#c6082a" />
<circle cx="265.80" cy="802.50" r="2.2" fill="#5a1e7c" />
<circle cx="263.50" cy="804.50" r="2.2" fill="#5a1e7c" />
<circle cx="268.00" cy="804.50" r="2.2" fill="#5a1e7c" />
<circle cx="261.50" cy="806.80" r="2.2" fill="#5a1e7c" />
<circle cx="265.80" cy="806.50" r="2.2" fill="#5a1e7c" />
<circle cx="270.00" cy="806.80" r="2.2" fill="#5a1e7c" />
<circle cx="262.50" cy="808.60" r="2.2" fill="#5a1e7c" />
<circle cx="265.80" cy="808.80" r="2.2" fill="#5a1e7c" />
<circle cx="269.00" cy="808.60" r="2.2" fill="#5a1e7c" />
<circle cx="279.50" cy="806.00" r="2.2" fill="#18468c" />
<circle cx="286.50" cy="806.00" r="2.2" fill="#18468c" />
<circle cx="283.00" cy="807.50" r="2.2" fill="#18468c" />
<circle cx="280.50" cy="808.80" r="2.2" fill="#18468c" />
<circle cx="285.50" cy="808.80" r="2.2" fill="#18468c" />
<circle cx="283.00" cy="809.40" r="2.2" fill="#18468c" />
<circle cx="315.00" cy="807.50" r="2.2" fill="#38ad47" />
<circle cx="322.00" cy="807.00" r="2.2" fill="#38ad47" />
<circle cx="318.50" cy="808.50" r="2.2" fill="#38ad47" />
<circle cx="316.00" cy="809.30" r="2.2" fill="#38ad47" />
<circle cx="321.00" cy="809.30" r="2.2" fill="#38ad47" />
<path d="M267.2,721.9 L267.2,718.5 L316.5,718.5 L316.5,721.9" fill="none" stroke="#111" stroke-width="1.1" />
<text font-size="8" text-anchor="middle" textLength="2.9" lengthAdjust="spacingAndGlyphs" style="fill:#111;stroke:#111;stroke-width:0.12px" x="291.85" y="718.0" >*</text>
<path d="M267.2,730.8 L267.2,727.4 L299.2,727.4 L299.2,730.8" fill="none" stroke="#111" stroke-width="1.1" />
<text font-size="8" text-anchor="middle" textLength="12.8" lengthAdjust="spacingAndGlyphs" style="fill:#111;stroke:#111;stroke-width:0.12px" x="283.2" y="726.9" >****</text>
<path d="M267.2,741.6 L267.2,738.2 L281.8,738.2 L281.8,741.6" fill="none" stroke="#111" stroke-width="1.1" />
<text font-size="8" text-anchor="middle" textLength="2.9" lengthAdjust="spacingAndGlyphs" style="fill:#111;stroke:#111;stroke-width:0.12px" x="274.5" y="737.7" >*</text>
<path d="M284.6,741.6 L284.6,738.2 L299.5,738.2 L299.5,741.6" fill="none" stroke="#111" stroke-width="1.1" />
<text font-size="8" text-anchor="middle" textLength="12.8" lengthAdjust="spacingAndGlyphs" style="fill:#111;stroke:#111;stroke-width:0.12px" x="292.05" y="737.7" >****</text>
<path d="M302.3,741.6 L302.3,738.2 L317.2,738.2 L317.2,741.6" fill="none" stroke="#111" stroke-width="1.1" />
<text font-size="8" text-anchor="middle" textLength="12.8" lengthAdjust="spacingAndGlyphs" style="fill:#111;stroke:#111;stroke-width:0.12px" x="309.75" y="737.7" >****</text>
<text font-size="9.4" text-anchor="middle" textLength="18.8" lengthAdjust="spacingAndGlyphs" x="292.4" y="703" >D21</text>
<text font-size="10" text-anchor="middle" textLength="60" lengthAdjust="spacingAndGlyphs" class="k" transform="translate(224.4 759.4) rotate(-90)" >Anti-HEL IgG MFI</text>
<rect x="427.6" y="783.8" width="9.8" height="25.8" fill="#ec8b80" />
<line x1="388.5" y1="709.0" x2="388.5" y2="810.2" stroke="#111" stroke-width="1.3" />
<line x1="384.9" y1="712.6" x2="388.5" y2="712.6" stroke="#111" stroke-width="1.1" />
<text font-size="7.7" text-anchor="end" textLength="17.0" lengthAdjust="spacingAndGlyphs" class="k" x="381.5" y="715.35" >1200</text>
<line x1="384.9" y1="736.9" x2="388.5" y2="736.9" stroke="#111" stroke-width="1.1" />
<text font-size="7.7" text-anchor="end" textLength="12.8" lengthAdjust="spacingAndGlyphs" class="k" x="381.5" y="739.65" >900</text>
<line x1="384.9" y1="761.2" x2="388.5" y2="761.2" stroke="#111" stroke-width="1.1" />
<text font-size="7.7" text-anchor="end" textLength="12.8" lengthAdjust="spacingAndGlyphs" class="k" x="381.5" y="763.95" >600</text>
<line x1="384.9" y1="785.4" x2="388.5" y2="785.4" stroke="#111" stroke-width="1.1" />
<text font-size="7.7" text-anchor="end" textLength="12.8" lengthAdjust="spacingAndGlyphs" class="k" x="381.5" y="788.15" >300</text>
<line x1="384.9" y1="809.6" x2="388.5" y2="809.6" stroke="#111" stroke-width="1.1" />
<text font-size="7.7" text-anchor="end" textLength="4.25" lengthAdjust="spacingAndGlyphs" class="k" x="381.5" y="812.35" >0</text>
<line x1="385.2" y1="809.6" x2="459.7" y2="809.6" stroke="#111" stroke-width="1.3" />
<line x1="397.4" y1="809.6" x2="397.4" y2="813.6" stroke="#111" stroke-width="1.1" />
<line x1="415" y1="809.6" x2="415" y2="813.6" stroke="#111" stroke-width="1.1" />
<line x1="432.5" y1="809.6" x2="432.5" y2="813.6" stroke="#111" stroke-width="1.1" />
<line x1="450.2" y1="809.6" x2="450.2" y2="813.6" stroke="#111" stroke-width="1.1" />
<circle cx="431.20" cy="764.60" r="2.2" fill="#c6082a" />
<circle cx="434.30" cy="766.50" r="2.2" fill="#c6082a" />
<circle cx="432.00" cy="774.20" r="2.2" fill="#c6082a" />
<circle cx="431.20" cy="776.90" r="2.2" fill="#c6082a" />
<circle cx="436.60" cy="779.20" r="2.2" fill="#c6082a" />
<circle cx="430.00" cy="781.10" r="2.2" fill="#c6082a" />
<circle cx="432.80" cy="782.30" r="2.2" fill="#c6082a" />
<circle cx="428.90" cy="782.80" r="2.2" fill="#c6082a" />
<circle cx="435.10" cy="783.80" r="2.2" fill="#c6082a" />
<circle cx="437.10" cy="784.30" r="2.2" fill="#c6082a" />
<circle cx="432.00" cy="784.60" r="2.2" fill="#c6082a" />
<circle cx="432.50" cy="790.00" r="2.2" fill="#c6082a" />
<circle cx="397.40" cy="802.00" r="2.2" fill="#5a1e7c" />
<circle cx="395.20" cy="804.30" r="2.2" fill="#5a1e7c" />
<circle cx="399.60" cy="804.30" r="2.2" fill="#5a1e7c" />
<circle cx="393.30" cy="806.80" r="2.2" fill="#5a1e7c" />
<circle cx="397.40" cy="806.50" r="2.2" fill="#5a1e7c" />
<circle cx="401.50" cy="806.80" r="2.2" fill="#5a1e7c" />
<circle cx="394.50" cy="808.60" r="2.2" fill="#5a1e7c" />
<circle cx="397.40" cy="808.80" r="2.2" fill="#5a1e7c" />
<circle cx="400.50" cy="808.60" r="2.2" fill="#5a1e7c" />
<circle cx="415.10" cy="798.50" r="2.2" fill="#18468c" />
<circle cx="415.10" cy="805.40" r="2.2" fill="#18468c" />
<circle cx="411.00" cy="808.00" r="2.2" fill="#18468c" />
<circle cx="414.00" cy="808.60" r="2.2" fill="#18468c" />
<circle cx="417.00" cy="808.60" r="2.2" fill="#18468c" />
<circle cx="419.50" cy="808.20" r="2.2" fill="#18468c" />
<circle cx="412.50" cy="809.30" r="2.2" fill="#18468c" />
<circle cx="450.20" cy="796.90" r="2.2" fill="#38ad47" />
<circle cx="452.00" cy="807.00" r="2.2" fill="#38ad47" />
<circle cx="446.00" cy="808.80" r="2.2" fill="#38ad47" />
<circle cx="449.00" cy="809.20" r="2.2" fill="#38ad47" />
<circle cx="452.00" cy="809.20" r="2.2" fill="#38ad47" />
<circle cx="455.00" cy="808.80" r="2.2" fill="#38ad47" />
<path d="M399.2,721.9 L399.2,718.5 L448.5,718.5 L448.5,721.9" fill="none" stroke="#111" stroke-width="1.1" />
<text font-size="8" text-anchor="middle" textLength="2.9" lengthAdjust="spacingAndGlyphs" style="fill:#111;stroke:#111;stroke-width:0.12px" x="423.85" y="718.0" >*</text>
<path d="M399.2,730.8 L399.2,727.4 L431.2,727.4 L431.2,730.8" fill="none" stroke="#111" stroke-width="1.1" />
<text font-size="8" text-anchor="middle" textLength="12.8" lengthAdjust="spacingAndGlyphs" style="fill:#111;stroke:#111;stroke-width:0.12px" x="415.2" y="726.9" >****</text>
<path d="M399.2,741.6 L399.2,738.2 L413.8,738.2 L413.8,741.6" fill="none" stroke="#111" stroke-width="1.1" />
<text font-size="8" text-anchor="middle" textLength="2.9" lengthAdjust="spacingAndGlyphs" style="fill:#111;stroke:#111;stroke-width:0.12px" x="406.5" y="737.7" >*</text>
<path d="M416.6,741.6 L416.6,738.2 L431.5,738.2 L431.5,741.6" fill="none" stroke="#111" stroke-width="1.1" />
<text font-size="8" text-anchor="middle" textLength="12.8" lengthAdjust="spacingAndGlyphs" style="fill:#111;stroke:#111;stroke-width:0.12px" x="424.05" y="737.7" >****</text>
<path d="M434.3,741.6 L434.3,738.2 L449.2,738.2 L449.2,741.6" fill="none" stroke="#111" stroke-width="1.1" />
<text font-size="8" text-anchor="middle" textLength="12.8" lengthAdjust="spacingAndGlyphs" style="fill:#111;stroke:#111;stroke-width:0.12px" x="441.75" y="737.7" >****</text>
<text font-size="9.4" text-anchor="middle" textLength="18.8" lengthAdjust="spacingAndGlyphs" x="424.6" y="703" >D28</text>
<text font-size="10" text-anchor="middle" textLength="67" lengthAdjust="spacingAndGlyphs" class="k" transform="translate(357.8 759.2) rotate(-90)" >Anti-HEL IgG (MFI)</text>
<line x1="132.4" y1="821.5" x2="136.6" y2="821.5" stroke="#3a3a3a" stroke-width="0.85" />
<line x1="150.1" y1="821.5" x2="153.9" y2="821.5" stroke="#3a3a3a" stroke-width="0.85" />
<line x1="152" y1="819.6" x2="152" y2="823.4" stroke="#3a3a3a" stroke-width="0.85" />
<line x1="167.15" y1="821.5" x2="171.35" y2="821.5" stroke="#3a3a3a" stroke-width="0.85" />
<line x1="184.85" y1="821.5" x2="188.65" y2="821.5" stroke="#3a3a3a" stroke-width="0.85" />
<line x1="186.75" y1="819.6" x2="186.75" y2="823.4" stroke="#3a3a3a" stroke-width="0.85" />
<line x1="132.4" y1="833.6" x2="136.6" y2="833.6" stroke="#3a3a3a" stroke-width="0.85" />
<line x1="149.9" y1="833.6" x2="154.1" y2="833.6" stroke="#3a3a3a" stroke-width="0.85" />
<line x1="167.35" y1="833.6" x2="171.15" y2="833.6" stroke="#3a3a3a" stroke-width="0.85" />
<line x1="169.25" y1="831.7" x2="169.25" y2="835.5" stroke="#3a3a3a" stroke-width="0.85" />
<line x1="184.85" y1="833.6" x2="188.65" y2="833.6" stroke="#3a3a3a" stroke-width="0.85" />
<line x1="186.75" y1="831.7" x2="186.75" y2="835.5" stroke="#3a3a3a" stroke-width="0.85" />
<line x1="263.7" y1="821.5" x2="267.90000000000003" y2="821.5" stroke="#3a3a3a" stroke-width="0.85" />
<line x1="281.1" y1="821.5" x2="284.9" y2="821.5" stroke="#3a3a3a" stroke-width="0.85" />
<line x1="283" y1="819.6" x2="283" y2="823.4" stroke="#3a3a3a" stroke-width="0.85" />
<line x1="298.7" y1="821.5" x2="302.90000000000003" y2="821.5" stroke="#3a3a3a" stroke-width="0.85" />
<line x1="316.6" y1="821.5" x2="320.4" y2="821.5" stroke="#3a3a3a" stroke-width="0.85" />
<line x1="318.5" y1="819.6" x2="318.5" y2="823.4" stroke="#3a3a3a" stroke-width="0.85" />
<line x1="263.7" y1="833.6" x2="267.90000000000003" y2="833.6" stroke="#3a3a3a" stroke-width="0.85" />
<line x1="280.9" y1="833.6" x2="285.1" y2="833.6" stroke="#3a3a3a" stroke-width="0.85" />
<line x1="298.90000000000003" y1="833.6" x2="302.7" y2="833.6" stroke="#3a3a3a" stroke-width="0.85" />
<line x1="300.8" y1="831.7" x2="300.8" y2="835.5" stroke="#3a3a3a" stroke-width="0.85" />
<line x1="316.6" y1="833.6" x2="320.4" y2="833.6" stroke="#3a3a3a" stroke-width="0.85" />
<line x1="318.5" y1="831.7" x2="318.5" y2="835.5" stroke="#3a3a3a" stroke-width="0.85" />
<line x1="395.29999999999995" y1="821.5" x2="399.5" y2="821.5" stroke="#3a3a3a" stroke-width="0.85" />
<line x1="413.1" y1="821.5" x2="416.9" y2="821.5" stroke="#3a3a3a" stroke-width="0.85" />
<line x1="415" y1="819.6" x2="415" y2="823.4" stroke="#3a3a3a" stroke-width="0.85" />
<line x1="430.4" y1="821.5" x2="434.6" y2="821.5" stroke="#3a3a3a" stroke-width="0.85" />
<line x1="448.3" y1="821.5" x2="452.09999999999997" y2="821.5" stroke="#3a3a3a" stroke-width="0.85" />
<line x1="450.2" y1="819.6" x2="450.2" y2="823.4" stroke="#3a3a3a" stroke-width="0.85" />
<line x1="395.29999999999995" y1="833.6" x2="399.5" y2="833.6" stroke="#3a3a3a" stroke-width="0.85" />
<line x1="412.9" y1="833.6" x2="417.1" y2="833.6" stroke="#3a3a3a" stroke-width="0.85" />
<line x1="430.6" y1="833.6" x2="434.4" y2="833.6" stroke="#3a3a3a" stroke-width="0.85" />
<line x1="432.5" y1="831.7" x2="432.5" y2="835.5" stroke="#3a3a3a" stroke-width="0.85" />
<line x1="448.3" y1="833.6" x2="452.09999999999997" y2="833.6" stroke="#3a3a3a" stroke-width="0.85" />
<line x1="450.2" y1="831.7" x2="450.2" y2="835.5" stroke="#3a3a3a" stroke-width="0.85" />
<rect x="0.5" y="0.5" width="519" height="845" fill="none" stroke="#444" stroke-width="1"/>
</svg>
</body></html>
